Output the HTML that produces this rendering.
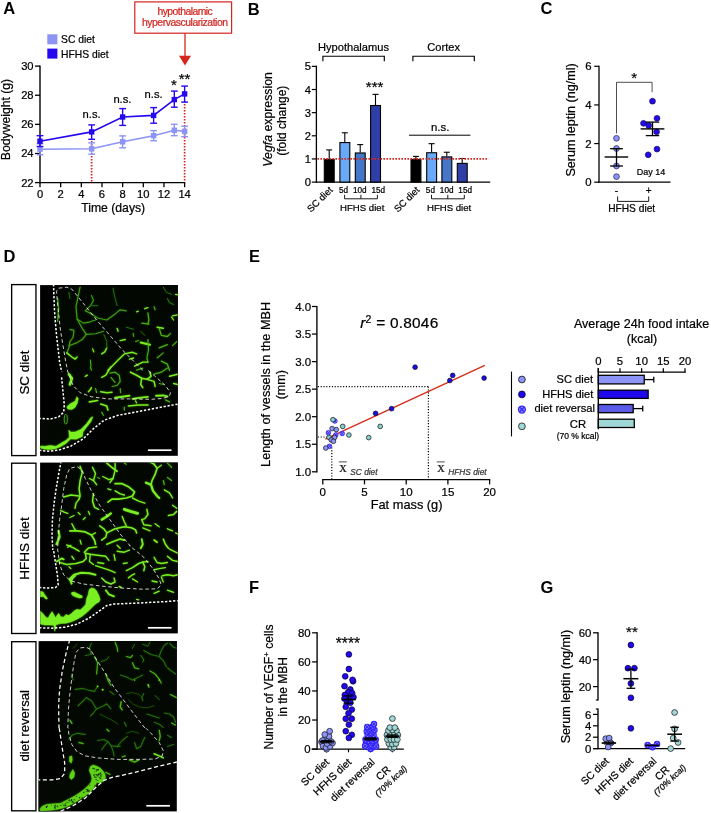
<!DOCTYPE html>
<html><head><meta charset="utf-8"><title>Figure</title>
<style>
html,body{margin:0;padding:0;background:#fff;}
body{width:711px;height:813px;overflow:hidden;font-family:"Liberation Sans",sans-serif;}
svg{display:block;opacity:0.9999;}
</style></head><body>
<svg width="711" height="813" viewBox="0 0 711 813" font-family="Liberation Sans, sans-serif">
<rect width="711" height="813" fill="#fff"/>
<text x="3.20" y="14.40" font-size="16.5" text-anchor="start" fill="#000" font-weight="bold" font-style="normal" font-family="Liberation Sans, sans-serif" >A</text>
<rect x="134.80" y="1.90" width="96.80" height="31.30" fill="#fff" stroke="#d4251f" stroke-width="1.2" />
<text x="185.10" y="14.90" font-size="10.4" text-anchor="middle" fill="#d4251f" stroke="#d4251f" stroke-width="0.22" font-weight="normal" font-style="normal" font-family="Liberation Sans, sans-serif" textLength="55.3" lengthAdjust="spacing" >hypothalamic</text>
<text x="185.00" y="25.70" font-size="10.4" text-anchor="middle" fill="#d4251f" stroke="#d4251f" stroke-width="0.22" font-weight="normal" font-style="normal" font-family="Liberation Sans, sans-serif" textLength="86" lengthAdjust="spacing" >hypervascularization</text>
<line x1="185.00" y1="33.20" x2="185.00" y2="57.00" stroke="#d4251f" stroke-width="1.3" />
<polygon points="179,55.7 191,55.7 185,65.6" fill="#d4251f"/>
<rect x="47.30" y="34.30" width="10.10" height="10.00" fill="#8c94f6" stroke="none" stroke-width="1" />
<rect x="47.30" y="48.60" width="10.10" height="10.00" fill="#2508ee" stroke="none" stroke-width="1" />
<text x="61.10" y="43.40" font-size="10.3" text-anchor="start" fill="#000" stroke="#000" stroke-width="0.22" font-weight="normal" font-style="normal" font-family="Liberation Sans, sans-serif" >SC diet</text>
<text x="61.10" y="57.60" font-size="10.3" text-anchor="start" fill="#000" stroke="#000" stroke-width="0.22" font-weight="normal" font-style="normal" font-family="Liberation Sans, sans-serif" >HFHS diet</text>
<line x1="40.00" y1="65.47" x2="40.00" y2="183.25" stroke="#000" stroke-width="1.4" />
<line x1="39.30" y1="182.60" x2="185.32" y2="182.60" stroke="#000" stroke-width="1.4" />
<line x1="35.00" y1="182.60" x2="40.00" y2="182.60" stroke="#000" stroke-width="1.3" />
<text x="33.60" y="186.60" font-size="11.2" text-anchor="end" fill="#000" stroke="#000" stroke-width="0.22" font-weight="normal" font-style="normal" font-family="Liberation Sans, sans-serif" >22</text>
<line x1="35.00" y1="153.48" x2="40.00" y2="153.48" stroke="#000" stroke-width="1.3" />
<text x="33.60" y="157.48" font-size="11.2" text-anchor="end" fill="#000" stroke="#000" stroke-width="0.22" font-weight="normal" font-style="normal" font-family="Liberation Sans, sans-serif" >24</text>
<line x1="35.00" y1="124.36" x2="40.00" y2="124.36" stroke="#000" stroke-width="1.3" />
<text x="33.60" y="128.36" font-size="11.2" text-anchor="end" fill="#000" stroke="#000" stroke-width="0.22" font-weight="normal" font-style="normal" font-family="Liberation Sans, sans-serif" >26</text>
<line x1="35.00" y1="95.24" x2="40.00" y2="95.24" stroke="#000" stroke-width="1.3" />
<text x="33.60" y="99.24" font-size="11.2" text-anchor="end" fill="#000" stroke="#000" stroke-width="0.22" font-weight="normal" font-style="normal" font-family="Liberation Sans, sans-serif" >28</text>
<line x1="35.00" y1="66.12" x2="40.00" y2="66.12" stroke="#000" stroke-width="1.3" />
<text x="33.60" y="70.12" font-size="11.2" text-anchor="end" fill="#000" stroke="#000" stroke-width="0.22" font-weight="normal" font-style="normal" font-family="Liberation Sans, sans-serif" >30</text>
<line x1="40.00" y1="182.60" x2="40.00" y2="187.20" stroke="#000" stroke-width="1.3" />
<text x="40.00" y="198.20" font-size="11.2" text-anchor="middle" fill="#000" stroke="#000" stroke-width="0.22" font-weight="normal" font-style="normal" font-family="Liberation Sans, sans-serif" >0</text>
<line x1="60.66" y1="182.60" x2="60.66" y2="187.20" stroke="#000" stroke-width="1.3" />
<text x="60.66" y="198.20" font-size="11.2" text-anchor="middle" fill="#000" stroke="#000" stroke-width="0.22" font-weight="normal" font-style="normal" font-family="Liberation Sans, sans-serif" >2</text>
<line x1="81.32" y1="182.60" x2="81.32" y2="187.20" stroke="#000" stroke-width="1.3" />
<text x="81.32" y="198.20" font-size="11.2" text-anchor="middle" fill="#000" stroke="#000" stroke-width="0.22" font-weight="normal" font-style="normal" font-family="Liberation Sans, sans-serif" >4</text>
<line x1="101.98" y1="182.60" x2="101.98" y2="187.20" stroke="#000" stroke-width="1.3" />
<text x="101.98" y="198.20" font-size="11.2" text-anchor="middle" fill="#000" stroke="#000" stroke-width="0.22" font-weight="normal" font-style="normal" font-family="Liberation Sans, sans-serif" >6</text>
<line x1="122.64" y1="182.60" x2="122.64" y2="187.20" stroke="#000" stroke-width="1.3" />
<text x="122.64" y="198.20" font-size="11.2" text-anchor="middle" fill="#000" stroke="#000" stroke-width="0.22" font-weight="normal" font-style="normal" font-family="Liberation Sans, sans-serif" >8</text>
<line x1="143.30" y1="182.60" x2="143.30" y2="187.20" stroke="#000" stroke-width="1.3" />
<text x="143.30" y="198.20" font-size="11.2" text-anchor="middle" fill="#000" stroke="#000" stroke-width="0.22" font-weight="normal" font-style="normal" font-family="Liberation Sans, sans-serif" >10</text>
<line x1="163.96" y1="182.60" x2="163.96" y2="187.20" stroke="#000" stroke-width="1.3" />
<text x="163.96" y="198.20" font-size="11.2" text-anchor="middle" fill="#000" stroke="#000" stroke-width="0.22" font-weight="normal" font-style="normal" font-family="Liberation Sans, sans-serif" >12</text>
<line x1="184.62" y1="182.60" x2="184.62" y2="187.20" stroke="#000" stroke-width="1.3" />
<text x="184.62" y="198.20" font-size="11.2" text-anchor="middle" fill="#000" stroke="#000" stroke-width="0.22" font-weight="normal" font-style="normal" font-family="Liberation Sans, sans-serif" >14</text>
<text x="113.20" y="211.80" font-size="12.2" text-anchor="middle" fill="#000" stroke="#000" stroke-width="0.22" font-weight="normal" font-style="normal" font-family="Liberation Sans, sans-serif" >Time (days)</text>
<text x="10.00" y="119.50" font-size="12.2" text-anchor="middle" fill="#000" stroke="#000" stroke-width="0.22" font-weight="normal" font-style="normal" font-family="Liberation Sans, sans-serif" transform="rotate(-90 10.00 119.50)" >Bodyweight (g)</text>
<line x1="91.65" y1="141.00" x2="91.65" y2="181.80" stroke="#d4251f" stroke-width="1.7" stroke-dasharray="1.6 1.4"/>
<line x1="184.62" y1="101.00" x2="184.62" y2="181.80" stroke="#d4251f" stroke-width="1.7" stroke-dasharray="1.6 1.4"/>
<polyline points="40.00,149.20 91.65,148.80 122.64,141.80 153.63,135.70 174.29,130.30 184.62,131.40" fill="none" stroke="#8c94f6" stroke-width="1.6"/>
<line x1="40.00" y1="143.80" x2="40.00" y2="154.70" stroke="#8c94f6" stroke-width="1.4" />
<line x1="36.60" y1="143.80" x2="43.40" y2="143.80" stroke="#8c94f6" stroke-width="1.4" />
<line x1="36.60" y1="154.70" x2="43.40" y2="154.70" stroke="#8c94f6" stroke-width="1.4" />
<rect x="37.30" y="146.50" width="5.40" height="5.40" fill="#8c94f6" stroke="none" stroke-width="1" />
<line x1="91.65" y1="142.90" x2="91.65" y2="154.20" stroke="#8c94f6" stroke-width="1.4" />
<line x1="88.25" y1="142.90" x2="95.05" y2="142.90" stroke="#8c94f6" stroke-width="1.4" />
<line x1="88.25" y1="154.20" x2="95.05" y2="154.20" stroke="#8c94f6" stroke-width="1.4" />
<rect x="88.95" y="146.10" width="5.40" height="5.40" fill="#8c94f6" stroke="none" stroke-width="1" />
<line x1="122.64" y1="135.90" x2="122.64" y2="147.80" stroke="#8c94f6" stroke-width="1.4" />
<line x1="119.24" y1="135.90" x2="126.04" y2="135.90" stroke="#8c94f6" stroke-width="1.4" />
<line x1="119.24" y1="147.80" x2="126.04" y2="147.80" stroke="#8c94f6" stroke-width="1.4" />
<rect x="119.94" y="139.10" width="5.40" height="5.40" fill="#8c94f6" stroke="none" stroke-width="1" />
<line x1="153.63" y1="130.60" x2="153.63" y2="140.70" stroke="#8c94f6" stroke-width="1.4" />
<line x1="150.23" y1="130.60" x2="157.03" y2="130.60" stroke="#8c94f6" stroke-width="1.4" />
<line x1="150.23" y1="140.70" x2="157.03" y2="140.70" stroke="#8c94f6" stroke-width="1.4" />
<rect x="150.93" y="133.00" width="5.40" height="5.40" fill="#8c94f6" stroke="none" stroke-width="1" />
<line x1="174.29" y1="124.30" x2="174.29" y2="135.70" stroke="#8c94f6" stroke-width="1.4" />
<line x1="170.89" y1="124.30" x2="177.69" y2="124.30" stroke="#8c94f6" stroke-width="1.4" />
<line x1="170.89" y1="135.70" x2="177.69" y2="135.70" stroke="#8c94f6" stroke-width="1.4" />
<rect x="171.59" y="127.60" width="5.40" height="5.40" fill="#8c94f6" stroke="none" stroke-width="1" />
<line x1="184.62" y1="126.20" x2="184.62" y2="136.70" stroke="#8c94f6" stroke-width="1.4" />
<line x1="181.22" y1="126.20" x2="188.02" y2="126.20" stroke="#8c94f6" stroke-width="1.4" />
<line x1="181.22" y1="136.70" x2="188.02" y2="136.70" stroke="#8c94f6" stroke-width="1.4" />
<rect x="181.92" y="128.70" width="5.40" height="5.40" fill="#8c94f6" stroke="none" stroke-width="1" />
<polyline points="40.00,141.20 91.65,131.90 122.64,117.00 153.63,115.40 174.29,99.60 184.62,93.90" fill="none" stroke="#2508ee" stroke-width="1.6"/>
<line x1="40.00" y1="135.70" x2="40.00" y2="146.50" stroke="#2508ee" stroke-width="1.4" />
<line x1="36.60" y1="135.70" x2="43.40" y2="135.70" stroke="#2508ee" stroke-width="1.4" />
<line x1="36.60" y1="146.50" x2="43.40" y2="146.50" stroke="#2508ee" stroke-width="1.4" />
<rect x="37.30" y="138.50" width="5.40" height="5.40" fill="#2508ee" stroke="none" stroke-width="1" />
<line x1="91.65" y1="124.90" x2="91.65" y2="139.30" stroke="#2508ee" stroke-width="1.4" />
<line x1="88.25" y1="124.90" x2="95.05" y2="124.90" stroke="#2508ee" stroke-width="1.4" />
<line x1="88.25" y1="139.30" x2="95.05" y2="139.30" stroke="#2508ee" stroke-width="1.4" />
<rect x="88.95" y="129.20" width="5.40" height="5.40" fill="#2508ee" stroke="none" stroke-width="1" />
<line x1="122.64" y1="108.60" x2="122.64" y2="125.40" stroke="#2508ee" stroke-width="1.4" />
<line x1="119.24" y1="108.60" x2="126.04" y2="108.60" stroke="#2508ee" stroke-width="1.4" />
<line x1="119.24" y1="125.40" x2="126.04" y2="125.40" stroke="#2508ee" stroke-width="1.4" />
<rect x="119.94" y="114.30" width="5.40" height="5.40" fill="#2508ee" stroke="none" stroke-width="1" />
<line x1="153.63" y1="107.60" x2="153.63" y2="123.20" stroke="#2508ee" stroke-width="1.4" />
<line x1="150.23" y1="107.60" x2="157.03" y2="107.60" stroke="#2508ee" stroke-width="1.4" />
<line x1="150.23" y1="123.20" x2="157.03" y2="123.20" stroke="#2508ee" stroke-width="1.4" />
<rect x="150.93" y="112.70" width="5.40" height="5.40" fill="#2508ee" stroke="none" stroke-width="1" />
<line x1="174.29" y1="91.10" x2="174.29" y2="107.20" stroke="#2508ee" stroke-width="1.4" />
<line x1="170.89" y1="91.10" x2="177.69" y2="91.10" stroke="#2508ee" stroke-width="1.4" />
<line x1="170.89" y1="107.20" x2="177.69" y2="107.20" stroke="#2508ee" stroke-width="1.4" />
<rect x="171.59" y="96.90" width="5.40" height="5.40" fill="#2508ee" stroke="none" stroke-width="1" />
<line x1="184.62" y1="86.10" x2="184.62" y2="102.10" stroke="#2508ee" stroke-width="1.4" />
<line x1="181.22" y1="86.10" x2="188.02" y2="86.10" stroke="#2508ee" stroke-width="1.4" />
<line x1="181.22" y1="102.10" x2="188.02" y2="102.10" stroke="#2508ee" stroke-width="1.4" />
<rect x="181.92" y="91.20" width="5.40" height="5.40" fill="#2508ee" stroke="none" stroke-width="1" />
<text x="91.60" y="118.40" font-size="11.2" text-anchor="middle" fill="#000" stroke="#000" stroke-width="0.22" font-weight="normal" font-style="normal" font-family="Liberation Sans, sans-serif" >n.s.</text>
<text x="122.40" y="103.00" font-size="11.2" text-anchor="middle" fill="#000" stroke="#000" stroke-width="0.22" font-weight="normal" font-style="normal" font-family="Liberation Sans, sans-serif" >n.s.</text>
<text x="153.60" y="98.20" font-size="11.2" text-anchor="middle" fill="#000" stroke="#000" stroke-width="0.22" font-weight="normal" font-style="normal" font-family="Liberation Sans, sans-serif" >n.s.</text>
<text x="173.80" y="90.20" font-size="15" text-anchor="middle" fill="#000" stroke="#000" stroke-width="0.22" font-weight="normal" font-style="normal" font-family="Liberation Sans, sans-serif" >*</text>
<text x="184.60" y="83.90" font-size="15" text-anchor="middle" fill="#000" stroke="#000" stroke-width="0.22" font-weight="normal" font-style="normal" font-family="Liberation Sans, sans-serif" >**</text>
<text x="247.80" y="14.50" font-size="16.5" text-anchor="start" fill="#000" font-weight="bold" font-style="normal" font-family="Liberation Sans, sans-serif" >B</text>
<line x1="316.40" y1="65.75" x2="316.40" y2="182.75" stroke="#000" stroke-width="1.3" />
<line x1="315.80" y1="182.10" x2="490.20" y2="182.10" stroke="#000" stroke-width="1.3" />
<line x1="311.80" y1="182.10" x2="316.40" y2="182.10" stroke="#000" stroke-width="1.2" />
<text x="311.00" y="186.10" font-size="11.2" text-anchor="end" fill="#000" stroke="#000" stroke-width="0.22" font-weight="normal" font-style="normal" font-family="Liberation Sans, sans-serif" >0</text>
<line x1="311.80" y1="158.95" x2="316.40" y2="158.95" stroke="#000" stroke-width="1.2" />
<text x="311.00" y="162.95" font-size="11.2" text-anchor="end" fill="#000" stroke="#000" stroke-width="0.22" font-weight="normal" font-style="normal" font-family="Liberation Sans, sans-serif" >1</text>
<line x1="311.80" y1="135.80" x2="316.40" y2="135.80" stroke="#000" stroke-width="1.2" />
<text x="311.00" y="139.80" font-size="11.2" text-anchor="end" fill="#000" stroke="#000" stroke-width="0.22" font-weight="normal" font-style="normal" font-family="Liberation Sans, sans-serif" >2</text>
<line x1="311.80" y1="112.65" x2="316.40" y2="112.65" stroke="#000" stroke-width="1.2" />
<text x="311.00" y="116.65" font-size="11.2" text-anchor="end" fill="#000" stroke="#000" stroke-width="0.22" font-weight="normal" font-style="normal" font-family="Liberation Sans, sans-serif" >3</text>
<line x1="311.80" y1="89.50" x2="316.40" y2="89.50" stroke="#000" stroke-width="1.2" />
<text x="311.00" y="93.50" font-size="11.2" text-anchor="end" fill="#000" stroke="#000" stroke-width="0.22" font-weight="normal" font-style="normal" font-family="Liberation Sans, sans-serif" >4</text>
<line x1="311.80" y1="66.35" x2="316.40" y2="66.35" stroke="#000" stroke-width="1.2" />
<text x="311.00" y="70.35" font-size="11.2" text-anchor="end" fill="#000" stroke="#000" stroke-width="0.22" font-weight="normal" font-style="normal" font-family="Liberation Sans, sans-serif" >5</text>
<line x1="329.20" y1="149.92" x2="329.20" y2="158.95" stroke="#000" stroke-width="1.1" />
<line x1="326.20" y1="149.92" x2="332.20" y2="149.92" stroke="#000" stroke-width="1.1" />
<rect x="324.30" y="159.45" width="9.90" height="22.65" fill="#000" stroke="#000" stroke-width="1.1" />
<line x1="344.80" y1="132.79" x2="344.80" y2="142.05" stroke="#000" stroke-width="1.1" />
<line x1="341.80" y1="132.79" x2="347.80" y2="132.79" stroke="#000" stroke-width="1.1" />
<rect x="339.90" y="142.55" width="9.90" height="39.55" fill="#6aa9f8" stroke="#000" stroke-width="1.1" />
<line x1="360.20" y1="144.60" x2="360.20" y2="152.47" stroke="#000" stroke-width="1.1" />
<line x1="357.20" y1="144.60" x2="363.20" y2="144.60" stroke="#000" stroke-width="1.1" />
<rect x="355.30" y="152.97" width="9.90" height="29.13" fill="#4576c8" stroke="#000" stroke-width="1.1" />
<line x1="375.50" y1="94.36" x2="375.50" y2="105.01" stroke="#000" stroke-width="1.1" />
<line x1="372.50" y1="94.36" x2="378.50" y2="94.36" stroke="#000" stroke-width="1.1" />
<rect x="370.60" y="105.51" width="9.90" height="76.59" fill="#303fa8" stroke="#000" stroke-width="1.1" />
<line x1="415.90" y1="156.40" x2="415.90" y2="158.95" stroke="#000" stroke-width="1.1" />
<line x1="412.90" y1="156.40" x2="418.90" y2="156.40" stroke="#000" stroke-width="1.1" />
<rect x="411.00" y="159.45" width="9.90" height="22.65" fill="#000" stroke="#000" stroke-width="1.1" />
<line x1="431.60" y1="143.67" x2="431.60" y2="152.24" stroke="#000" stroke-width="1.1" />
<line x1="428.60" y1="143.67" x2="434.60" y2="143.67" stroke="#000" stroke-width="1.1" />
<rect x="426.70" y="152.74" width="9.90" height="29.36" fill="#6aa9f8" stroke="#000" stroke-width="1.1" />
<line x1="446.80" y1="152.24" x2="446.80" y2="156.40" stroke="#000" stroke-width="1.1" />
<line x1="443.80" y1="152.24" x2="449.80" y2="152.24" stroke="#000" stroke-width="1.1" />
<rect x="441.90" y="156.90" width="9.90" height="25.20" fill="#4576c8" stroke="#000" stroke-width="1.1" />
<line x1="462.20" y1="158.49" x2="462.20" y2="162.89" stroke="#000" stroke-width="1.1" />
<line x1="459.20" y1="158.49" x2="465.20" y2="158.49" stroke="#000" stroke-width="1.1" />
<rect x="457.30" y="163.39" width="9.90" height="18.71" fill="#303fa8" stroke="#000" stroke-width="1.1" />
<line x1="317.40" y1="158.95" x2="488.50" y2="158.95" stroke="#d4251f" stroke-width="1.7" stroke-dasharray="1.6 1.4"/>
<path d="M322.9 61.2V56.2H384.3V61.2" fill="none" stroke="#000" stroke-width="1.15"/>
<path d="M412.9 61.2V56.2H474.3V61.2" fill="none" stroke="#000" stroke-width="1.15"/>
<text x="353.50" y="50.70" font-size="11.1" text-anchor="middle" fill="#000" stroke="#000" stroke-width="0.22" font-weight="normal" font-style="normal" font-family="Liberation Sans, sans-serif" >Hypothalamus</text>
<text x="443.70" y="50.70" font-size="11.1" text-anchor="middle" fill="#000" stroke="#000" stroke-width="0.22" font-weight="normal" font-style="normal" font-family="Liberation Sans, sans-serif" >Cortex</text>
<text x="374.60" y="92.40" font-size="15" text-anchor="middle" fill="#000" stroke="#000" stroke-width="0.22" font-weight="normal" font-style="normal" font-family="Liberation Sans, sans-serif" >***</text>
<line x1="409.00" y1="135.20" x2="470.40" y2="135.20" stroke="#000" stroke-width="1" />
<text x="440.20" y="130.80" font-size="11.4" text-anchor="middle" fill="#000" stroke="#000" stroke-width="0.22" font-weight="normal" font-style="normal" font-family="Liberation Sans, sans-serif" >n.s.</text>
<text x="333.30" y="190.60" font-size="9.6" text-anchor="end" fill="#000" stroke="#000" stroke-width="0.22" font-weight="normal" font-style="normal" font-family="Liberation Sans, sans-serif" transform="rotate(-45 333.30 190.60)" >SC diet</text>
<text x="343.50" y="192.50" font-size="8.2" text-anchor="middle" fill="#000" stroke="#000" stroke-width="0.22" font-weight="normal" font-style="normal" font-family="Liberation Sans, sans-serif" >5d</text>
<text x="359.80" y="192.50" font-size="8.2" text-anchor="middle" fill="#000" stroke="#000" stroke-width="0.22" font-weight="normal" font-style="normal" font-family="Liberation Sans, sans-serif" >10d</text>
<text x="378.30" y="192.50" font-size="8.2" text-anchor="middle" fill="#000" stroke="#000" stroke-width="0.22" font-weight="normal" font-style="normal" font-family="Liberation Sans, sans-serif" >15d</text>
<path d="M344.6 194.8V198.8H377.4V194.8M360.9 194.8V198.8" fill="none" stroke="#000" stroke-width="0.9"/>
<text x="362.20" y="210.60" font-size="9.6" text-anchor="middle" fill="#000" stroke="#000" stroke-width="0.22" font-weight="normal" font-style="normal" font-family="Liberation Sans, sans-serif" >HFHS diet</text>
<text x="420.20" y="190.60" font-size="9.6" text-anchor="end" fill="#000" stroke="#000" stroke-width="0.22" font-weight="normal" font-style="normal" font-family="Liberation Sans, sans-serif" transform="rotate(-45 420.20 190.60)" >SC diet</text>
<text x="430.40" y="192.50" font-size="8.2" text-anchor="middle" fill="#000" stroke="#000" stroke-width="0.22" font-weight="normal" font-style="normal" font-family="Liberation Sans, sans-serif" >5d</text>
<text x="446.70" y="192.50" font-size="8.2" text-anchor="middle" fill="#000" stroke="#000" stroke-width="0.22" font-weight="normal" font-style="normal" font-family="Liberation Sans, sans-serif" >10d</text>
<text x="465.20" y="192.50" font-size="8.2" text-anchor="middle" fill="#000" stroke="#000" stroke-width="0.22" font-weight="normal" font-style="normal" font-family="Liberation Sans, sans-serif" >15d</text>
<path d="M431.5 194.8V198.8H464.29999999999995V194.8M447.79999999999995 194.8V198.8" fill="none" stroke="#000" stroke-width="0.9"/>
<text x="449.10" y="210.60" font-size="9.6" text-anchor="middle" fill="#000" stroke="#000" stroke-width="0.22" font-weight="normal" font-style="normal" font-family="Liberation Sans, sans-serif" >HFHS diet</text>
<text x="272.00" y="119.40" font-size="12.3" text-anchor="middle" fill="#000" stroke="#000" stroke-width="0.22" font-weight="normal" font-style="normal" font-family="Liberation Sans, sans-serif" transform="rotate(-90 272.00 119.40)" ><tspan font-style="italic">Vegfa</tspan> expression</text>
<text x="286.50" y="120.70" font-size="12.0" text-anchor="middle" fill="#000" stroke="#000" stroke-width="0.22" font-weight="normal" font-style="normal" font-family="Liberation Sans, sans-serif" transform="rotate(-90 286.50 120.70)" >(fold change)</text>
<text x="540.60" y="14.30" font-size="16.5" text-anchor="start" fill="#000" font-weight="bold" font-style="normal" font-family="Liberation Sans, sans-serif" >C</text>
<line x1="599.00" y1="65.68" x2="599.00" y2="182.85" stroke="#000" stroke-width="1.3" />
<line x1="598.40" y1="182.20" x2="670.50" y2="182.20" stroke="#000" stroke-width="1.3" />
<line x1="594.20" y1="182.20" x2="599.00" y2="182.20" stroke="#000" stroke-width="1.2" />
<text x="591.60" y="186.30" font-size="11.4" text-anchor="end" fill="#000" stroke="#000" stroke-width="0.22" font-weight="normal" font-style="normal" font-family="Liberation Sans, sans-serif" >0</text>
<line x1="594.20" y1="143.56" x2="599.00" y2="143.56" stroke="#000" stroke-width="1.2" />
<text x="591.60" y="147.66" font-size="11.4" text-anchor="end" fill="#000" stroke="#000" stroke-width="0.22" font-weight="normal" font-style="normal" font-family="Liberation Sans, sans-serif" >2</text>
<line x1="594.20" y1="104.92" x2="599.00" y2="104.92" stroke="#000" stroke-width="1.2" />
<text x="591.60" y="109.02" font-size="11.4" text-anchor="end" fill="#000" stroke="#000" stroke-width="0.22" font-weight="normal" font-style="normal" font-family="Liberation Sans, sans-serif" >4</text>
<line x1="594.20" y1="66.28" x2="599.00" y2="66.28" stroke="#000" stroke-width="1.2" />
<text x="591.60" y="70.38" font-size="11.4" text-anchor="end" fill="#000" stroke="#000" stroke-width="0.22" font-weight="normal" font-style="normal" font-family="Liberation Sans, sans-serif" >6</text>
<text x="575.00" y="119.90" font-size="12.6" text-anchor="middle" fill="#000" stroke="#000" stroke-width="0.22" font-weight="normal" font-style="normal" font-family="Liberation Sans, sans-serif" transform="rotate(-90 575.00 119.90)" >Serum leptin (ng/ml)</text>
<circle cx="616.50" cy="138.30" r="2.9" fill="#8c94f6" stroke="#22224a" stroke-width="0.7" />
<circle cx="616.50" cy="148.50" r="2.9" fill="#8c94f6" stroke="#22224a" stroke-width="0.7" />
<circle cx="616.50" cy="166.00" r="2.9" fill="#8c94f6" stroke="#22224a" stroke-width="0.7" />
<circle cx="616.50" cy="176.60" r="2.9" fill="#8c94f6" stroke="#22224a" stroke-width="0.7" />
<circle cx="652.50" cy="101.20" r="2.9" fill="#2508ee" stroke="#10105a" stroke-width="0.7" />
<circle cx="657.00" cy="118.30" r="2.9" fill="#2508ee" stroke="#10105a" stroke-width="0.7" />
<circle cx="643.50" cy="123.30" r="2.9" fill="#2508ee" stroke="#10105a" stroke-width="0.7" />
<circle cx="648.70" cy="125.50" r="2.9" fill="#2508ee" stroke="#10105a" stroke-width="0.7" />
<circle cx="656.60" cy="131.80" r="2.9" fill="#2508ee" stroke="#10105a" stroke-width="0.7" />
<circle cx="657.00" cy="149.10" r="2.9" fill="#2508ee" stroke="#10105a" stroke-width="0.7" />
<circle cx="648.20" cy="154.80" r="2.9" fill="#2508ee" stroke="#10105a" stroke-width="0.7" />
<line x1="604.60" y1="157.00" x2="628.20" y2="157.00" stroke="#000" stroke-width="1.4" />
<line x1="616.50" y1="148.70" x2="616.50" y2="166.00" stroke="#000" stroke-width="1.3" />
<line x1="610.10" y1="148.70" x2="622.90" y2="148.70" stroke="#000" stroke-width="1.3" />
<line x1="610.10" y1="166.00" x2="622.90" y2="166.00" stroke="#000" stroke-width="1.3" />
<line x1="640.60" y1="128.90" x2="664.40" y2="128.90" stroke="#000" stroke-width="1.4" />
<line x1="652.50" y1="122.10" x2="652.50" y2="135.60" stroke="#000" stroke-width="1.3" />
<line x1="645.80" y1="122.10" x2="659.20" y2="122.10" stroke="#000" stroke-width="1.3" />
<line x1="645.80" y1="135.60" x2="659.20" y2="135.60" stroke="#000" stroke-width="1.3" />
<path d="M616.5 133.4V82.3H652.1V92.2" fill="none" stroke="#222" stroke-width="0.8"/>
<text x="634.20" y="82.50" font-size="15" text-anchor="middle" fill="#000" stroke="#000" stroke-width="0.22" font-weight="normal" font-style="normal" font-family="Liberation Sans, sans-serif" >*</text>
<text x="651.00" y="174.60" font-size="9.0" text-anchor="middle" fill="#000" stroke="#000" stroke-width="0.22" font-weight="normal" font-style="normal" font-family="Liberation Sans, sans-serif" >Day 14</text>
<text x="616.50" y="194.00" font-size="10" text-anchor="middle" fill="#000" stroke="#000" stroke-width="0.22" font-weight="normal" font-style="normal" font-family="Liberation Sans, sans-serif" >-</text>
<text x="648.70" y="193.60" font-size="10" text-anchor="middle" fill="#000" stroke="#000" stroke-width="0.22" font-weight="normal" font-style="normal" font-family="Liberation Sans, sans-serif" >+</text>
<path d="M617.6 196.4V201.4H648.7V196.4" fill="none" stroke="#000" stroke-width="0.9"/>
<text x="631.70" y="211.50" font-size="10.2" text-anchor="middle" fill="#000" stroke="#000" stroke-width="0.22" font-weight="normal" font-style="normal" font-family="Liberation Sans, sans-serif" >HFHS diet</text>
<defs><filter id="vb" x="-5%" y="-5%" width="110%" height="110%"><feGaussianBlur in="SourceGraphic" stdDeviation="1.3" result="g"/><feComponentTransfer in="g" result="g2"><feFuncA type="linear" slope="0.42"/></feComponentTransfer><feGaussianBlur in="SourceGraphic" stdDeviation="0.5" result="s"/><feMerge><feMergeNode in="g2"/><feMergeNode in="s"/></feMerge></filter></defs>
<text x="3.40" y="261.60" font-size="16.5" text-anchor="start" fill="#000" font-weight="bold" font-style="normal" font-family="Liberation Sans, sans-serif" >D</text>
<rect x="11.65" y="284.60" width="24.30" height="171.00" fill="#fff" stroke="#000" stroke-width="1.35" />
<text x="29.20" y="372.60" font-size="13.4" text-anchor="middle" fill="#000" stroke="#000" stroke-width="0.22" font-weight="normal" font-style="normal" font-family="Liberation Sans, sans-serif" transform="rotate(-90 29.20 372.60)" >SC diet</text>
<rect x="11.65" y="463.20" width="24.30" height="170.30" fill="#fff" stroke="#000" stroke-width="1.35" />
<text x="29.20" y="548.50" font-size="13.5" text-anchor="middle" fill="#000" stroke="#000" stroke-width="0.22" font-weight="normal" font-style="normal" font-family="Liberation Sans, sans-serif" transform="rotate(-90 29.20 548.50)" >HFHS diet</text>
<rect x="11.65" y="641.70" width="24.30" height="169.10" fill="#fff" stroke="#000" stroke-width="1.35" />
<text x="29.20" y="725.80" font-size="13.1" text-anchor="middle" fill="#000" stroke="#000" stroke-width="0.22" font-weight="normal" font-style="normal" font-family="Liberation Sans, sans-serif" transform="rotate(-90 29.20 725.80)" >diet reversal</text>
<clipPath id="c1"><rect x="40.1" y="285.1" width="137.70000000000002" height="170.7"/></clipPath>
<rect x="40.10" y="285.10" width="137.70" height="170.70" fill="#000" stroke="none" stroke-width="1" />
<g clip-path="url(#c1)">
<polygon points="53.5,284.1 54.5,310.8 56.5,335.4 59.6,362.1 61.7,372.0 61.7,378.3 63.1,392.7 64.3,405.0 63.7,412.2 58.6,416.9 50.4,419.0 39.1,418.4 39.1,450.2 48.3,451.2 58.6,450.2 70.9,446.1 83.2,438.9 93.5,428.6 103.8,420.4 118.1,415.3 134.6,412.2 151.0,409.1 167.4,406.0 178.7,404.0 178.8,284.1" fill="#030701"/>
<g filter="url(#vb)">
<path d="M80.1 287.2L78.1 296.4L76.0 306.7L77.1 319.0L82.2 328.3L86.3 334.4" fill="none" stroke="#3f9e12" stroke-width="1.2" stroke-linecap="round" stroke-linejoin="round" />
<path d="M86.3 334.4L95.5 333.8L103.8 331.3" fill="none" stroke="#3f9e12" stroke-width="1.1" stroke-linecap="round" stroke-linejoin="round" />
<path d="M57.6 298.5L58.6 308.7L57.6 321.1" fill="none" stroke="#3f9e12" stroke-width="1.4" stroke-linecap="round" stroke-linejoin="round" />
<path d="M68.9 292.3L69.9 298.5" fill="none" stroke="#276f0b" stroke-width="1" stroke-linecap="round" stroke-linejoin="round" />
<path d="M91.4 295.4L93.5 300.5L90.4 305.7L85.3 310.8" fill="none" stroke="#3f9e12" stroke-width="1.1" stroke-linecap="round" stroke-linejoin="round" />
<path d="M85.3 310.8L91.4 313.9L97.6 318.0L106.8 320.0L115.1 313.9L120.2 309.8L126.3 310.8" fill="none" stroke="#3f9e12" stroke-width="1.2" stroke-linecap="round" stroke-linejoin="round" />
<path d="M90.4 305.7L97.6 305.7" fill="none" stroke="#276f0b" stroke-width="1" stroke-linecap="round" stroke-linejoin="round" />
<path d="M113.0 288.2L115.1 298.5L117.1 305.7" fill="none" stroke="#276f0b" stroke-width="1" stroke-linecap="round" stroke-linejoin="round" />
<path d="M77.1 319.0L83.2 323.1L89.4 322.1L95.5 320.0" fill="none" stroke="#3f9e12" stroke-width="1.1" stroke-linecap="round" stroke-linejoin="round" />
<path d="M69.9 329.3L74.0 330.3L73.0 337.5L69.9 341.6L68.9 347.8L66.8 352.9" fill="none" stroke="#3f9e12" stroke-width="1.2" stroke-linecap="round" stroke-linejoin="round" />
<path d="M68.9 345.7L77.1 342.6L82.2 339.5L86.3 334.4" fill="none" stroke="#3f9e12" stroke-width="1.2" stroke-linecap="round" stroke-linejoin="round" />
<path d="M66.8 352.9L71.9 357.0L75.0 359.1L77.1 357.0" fill="none" stroke="#7af024" stroke-width="1.5" stroke-linecap="round" stroke-linejoin="round" />
<path d="M92.5 348.8L93.9 351.9" fill="none" stroke="#7af024" stroke-width="1.2" stroke-linecap="round" stroke-linejoin="round" />
<path d="M106.8 347.8L104.8 351.9L101.7 353.9" fill="none" stroke="#7af024" stroke-width="1.4" stroke-linecap="round" stroke-linejoin="round" />
<path d="M103.8 334.4L106.8 341.6L106.8 347.8" fill="none" stroke="#276f0b" stroke-width="1" stroke-linecap="round" stroke-linejoin="round" />
<path d="M90.4 360.1L91.0 366.2" fill="none" stroke="#47ae14" stroke-width="1.1" stroke-linecap="round" stroke-linejoin="round" />
<path d="M117.1 328.3L118.1 331.3" fill="none" stroke="#7af024" stroke-width="1.3" stroke-linecap="round" stroke-linejoin="round" />
<path d="M120.2 340.6L125.3 339.5" fill="none" stroke="#7af024" stroke-width="1.4" stroke-linecap="round" stroke-linejoin="round" />
<path d="M126.3 327.2L133.5 329.3" fill="none" stroke="#276f0b" stroke-width="1" stroke-linecap="round" stroke-linejoin="round" />
<path d="M133.1 333.4L133.7 336.5" fill="none" stroke="#47ae14" stroke-width="1.1" stroke-linecap="round" stroke-linejoin="round" />
<path d="M136.6 311.8L138.3 311.2" fill="none" stroke="#7af024" stroke-width="1.4" stroke-linecap="round" stroke-linejoin="round" />
<path d="M144.8 308.7L147.9 307.7" fill="none" stroke="#7af024" stroke-width="1.4" stroke-linecap="round" stroke-linejoin="round" />
<path d="M147.9 312.9L148.9 320.0L147.9 324.1" fill="none" stroke="#47ae14" stroke-width="1.3" stroke-linecap="round" stroke-linejoin="round" />
<path d="M141.7 323.1L148.9 324.1" fill="none" stroke="#47ae14" stroke-width="1.2" stroke-linecap="round" stroke-linejoin="round" />
<path d="M154.1 306.7L155.1 309.8" fill="none" stroke="#47ae14" stroke-width="1.2" stroke-linecap="round" stroke-linejoin="round" />
<path d="M157.1 327.2L163.3 328.3" fill="none" stroke="#7af024" stroke-width="1.5" stroke-linecap="round" stroke-linejoin="round" />
<path d="M159.2 328.3L161.3 335.4L167.4 336.5L170.5 333.4" fill="none" stroke="#47ae14" stroke-width="1.3" stroke-linecap="round" stroke-linejoin="round" />
<path d="M171.5 317.0L173.6 320.0" fill="none" stroke="#7af024" stroke-width="1.3" stroke-linecap="round" stroke-linejoin="round" />
<path d="M172.6 315.9L177.7 314.9" fill="none" stroke="#7af024" stroke-width="1.4" stroke-linecap="round" stroke-linejoin="round" />
<path d="M167.4 298.5L169.5 302.6L173.6 304.6" fill="none" stroke="#276f0b" stroke-width="1.1" stroke-linecap="round" stroke-linejoin="round" />
<path d="M163.3 287.2L166.4 292.3L171.5 294.4" fill="none" stroke="#276f0b" stroke-width="1" stroke-linecap="round" stroke-linejoin="round" />
<path d="M175.6 294.4L177.7 294.8" fill="none" stroke="#7af024" stroke-width="1.4" stroke-linecap="round" stroke-linejoin="round" />
<path d="M140.7 342.6L150.0 344.7" fill="none" stroke="#7af024" stroke-width="2.0" stroke-linecap="round" stroke-linejoin="round" />
<path d="M147.9 339.5L148.5 349.8L146.9 358.0L147.9 362.1" fill="none" stroke="#47ae14" stroke-width="1.2" stroke-linecap="round" stroke-linejoin="round" />
<path d="M159.2 347.8L167.4 344.7" fill="none" stroke="#47ae14" stroke-width="1.3" stroke-linecap="round" stroke-linejoin="round" />
<path d="M172.6 345.7L176.7 341.6" fill="none" stroke="#47ae14" stroke-width="1.2" stroke-linecap="round" stroke-linejoin="round" />
<path d="M157.1 358.0L163.3 352.9" fill="none" stroke="#47ae14" stroke-width="1.1" stroke-linecap="round" stroke-linejoin="round" />
<path d="M161.3 361.1L167.4 364.2L169.5 370.3" fill="none" stroke="#47ae14" stroke-width="1.3" stroke-linecap="round" stroke-linejoin="round" />
<path d="M107.9 370.3L112.0 366.2L118.1 360.1L124.3 353.9L132.5 352.3L136.6 353.9" fill="none" stroke="#7af024" stroke-width="1.4" stroke-linecap="round" stroke-linejoin="round" />
<path d="M129.4 359.1L133.5 358.0" fill="none" stroke="#7af024" stroke-width="1.4" stroke-linecap="round" stroke-linejoin="round" />
<path d="M134.6 366.2L142.8 362.1L147.9 362.1" fill="none" stroke="#7af024" stroke-width="1.4" stroke-linecap="round" stroke-linejoin="round" />
<path d="M140.7 331.3L144.8 335.4" fill="none" stroke="#276f0b" stroke-width="1" stroke-linecap="round" stroke-linejoin="round" />
<path d="M135.6 341.6L138.7 340.6" fill="none" stroke="#47ae14" stroke-width="1.1" stroke-linecap="round" stroke-linejoin="round" />
<path d="M68.9 374.2L71.9 378.3L69.9 384.5" fill="none" stroke="#7af024" stroke-width="2.6" stroke-linecap="round" stroke-linejoin="round" />
<path d="M85.3 376.3L87.3 375.2" fill="none" stroke="#7af024" stroke-width="1.5" stroke-linecap="round" stroke-linejoin="round" />
<path d="M90.4 367.0L91.4 370.1" fill="none" stroke="#47ae14" stroke-width="1.2" stroke-linecap="round" stroke-linejoin="round" />
<path d="M101.7 377.3L105.8 375.2L108.9 370.1L110.9 367.0" fill="none" stroke="#7af024" stroke-width="1.5" stroke-linecap="round" stroke-linejoin="round" />
<path d="M109.9 373.2L115.1 372.2L119.2 375.2L120.2 381.4L117.1 385.5L112.0 386.5" fill="none" stroke="#47ae14" stroke-width="1.2" stroke-linecap="round" stroke-linejoin="round" />
<path d="M110.9 377.3L115.1 382.4" fill="none" stroke="#47ae14" stroke-width="1.1" stroke-linecap="round" stroke-linejoin="round" />
<path d="M91.4 387.6L90.4 389.6L88.4 391.7" fill="none" stroke="#7af024" stroke-width="1.5" stroke-linecap="round" stroke-linejoin="round" />
<path d="M95.5 388.6L96.6 392.7" fill="none" stroke="#47ae14" stroke-width="1.2" stroke-linecap="round" stroke-linejoin="round" />
<path d="M100.7 391.7L106.8 392.7L112.0 392.3" fill="none" stroke="#7af024" stroke-width="1.5" stroke-linecap="round" stroke-linejoin="round" />
<path d="M120.2 388.6L120.6 392.7" fill="none" stroke="#47ae14" stroke-width="1.2" stroke-linecap="round" stroke-linejoin="round" />
<path d="M89.4 401.9L97.6 400.5" fill="none" stroke="#7af024" stroke-width="1.7" stroke-linecap="round" stroke-linejoin="round" />
<path d="M100.7 404.0L106.8 406.0L107.9 410.1" fill="none" stroke="#7af024" stroke-width="1.6" stroke-linecap="round" stroke-linejoin="round" />
<path d="M101.7 412.2L103.4 415.3" fill="none" stroke="#47ae14" stroke-width="1.2" stroke-linecap="round" stroke-linejoin="round" />
<path d="M115.1 397.8L122.2 396.8L129.4 395.8" fill="none" stroke="#7af024" stroke-width="2.0" stroke-linecap="round" stroke-linejoin="round" />
<path d="M132.5 398.9L138.7 397.8L147.9 396.8" fill="none" stroke="#7af024" stroke-width="1.8" stroke-linecap="round" stroke-linejoin="round" />
<path d="M135.6 400.9L136.6 403.0" fill="none" stroke="#7af024" stroke-width="1.2" stroke-linecap="round" stroke-linejoin="round" />
<path d="M124.3 407.1L124.3 410.1" fill="none" stroke="#47ae14" stroke-width="1.2" stroke-linecap="round" stroke-linejoin="round" />
<path d="M128.4 406.0L138.7 405.0L147.9 405.0" fill="none" stroke="#7af024" stroke-width="1.7" stroke-linecap="round" stroke-linejoin="round" />
<path d="M156.1 395.8L163.3 395.4L167.4 396.4" fill="none" stroke="#7af024" stroke-width="2.0" stroke-linecap="round" stroke-linejoin="round" />
<path d="M165.4 399.9L169.5 401.9" fill="none" stroke="#47ae14" stroke-width="1.3" stroke-linecap="round" stroke-linejoin="round" />
<path d="M130.5 372.2L136.6 375.2L141.7 378.3L146.9 379.3L151.0 376.3L150.0 372.2" fill="none" stroke="#7af024" stroke-width="1.6" stroke-linecap="round" stroke-linejoin="round" />
<path d="M141.7 378.3L140.7 384.5L142.8 387.6" fill="none" stroke="#7af024" stroke-width="1.5" stroke-linecap="round" stroke-linejoin="round" />
<path d="M146.9 379.3L154.1 381.4L155.1 386.5" fill="none" stroke="#7af024" stroke-width="1.4" stroke-linecap="round" stroke-linejoin="round" />
<path d="M136.6 370.1L142.8 368.1" fill="none" stroke="#47ae14" stroke-width="1.2" stroke-linecap="round" stroke-linejoin="round" />
<path d="M154.1 374.2L161.3 372.2L167.4 368.1" fill="none" stroke="#47ae14" stroke-width="1.2" stroke-linecap="round" stroke-linejoin="round" />
<path d="M169.5 376.3L177.7 374.2" fill="none" stroke="#7af024" stroke-width="1.5" stroke-linecap="round" stroke-linejoin="round" />
<path d="M159.2 383.5L163.3 384.5" fill="none" stroke="#47ae14" stroke-width="1.1" stroke-linecap="round" stroke-linejoin="round" />
<path d="M173.6 383.5L177.7 384.5" fill="none" stroke="#7af024" stroke-width="1.3" stroke-linecap="round" stroke-linejoin="round" />
<polygon points="40.3,445.9 44.8,446.3 50.4,445.4 56.0,446.3 61.6,442.8 66.1,440.2 69.3,437.3 68.8,430.1 70.9,432.1 75.1,431.9 80.8,429.4 86.4,423.8 90.9,417.5 92.9,416.8 90.9,421.8 86.4,427.4 83.0,431.9 82.4,436.4 76.3,439.2 70.6,438.9 66.1,443.4 60.5,446.8 54.9,449.0 49.3,449.6 43.6,449.0 40.3,448.1" fill="#7af024" stroke="#7af024" stroke-width="0.5" stroke-linejoin="round"/>
<polygon points="66.7,406.8 70.6,403.4 75.1,401.2 76.8,396.7 78.3,398.4 77.4,402.9 75.1,407.4 71.8,409.6 67.8,409.1" fill="#7af024" stroke="#7af024" stroke-width="0.5" stroke-linejoin="round"/>
<ellipse cx="65.8" cy="419.2" rx="1.6" ry="5" fill="none" stroke="#47ae14" stroke-width="0.9"/>
</g>
<path d="M53.5 284.1L54.5 310.8L56.5 335.4L59.6 362.1L61.7 372.0" fill="none" stroke="#fff" stroke-width="1.5" stroke-dasharray="2.3 1.7" stroke-linejoin="round" opacity="1"/>
<path d="M61.5 377.3L61.7 378.3L63.1 392.7L64.3 405.0L63.7 412.2L58.6 416.9L50.4 419.0L39.1 418.4" fill="none" stroke="#fff" stroke-width="1.5" stroke-dasharray="2.3 1.7" stroke-linejoin="round" opacity="1"/>
<path d="M39.1 450.2L48.3 451.2L58.6 450.2L70.9 446.1L83.2 438.9L93.5 428.6L103.8 420.4L118.1 415.3L134.6 412.2L151.0 409.1L167.4 406.0L178.7 404.0" fill="none" stroke="#fff" stroke-width="1.5" stroke-dasharray="2.3 1.7" stroke-linejoin="round" opacity="1"/>
<path d="M142.8 370.3L122.2 349.8L97.6 321.1L71.9 289.2L66.8 287.2L58.6 288.2L56.5 291.3L57.6 304.6L60.6 331.3L65.8 362.1L67.8 372.0L68.9 374.2L73.0 385.5L80.1 392.7L91.4 396.8L107.9 398.9L128.4 398.9L151.0 399.3L163.3 398.4L169.5 395.8L170.5 392.7L165.4 385.5L155.1 376.3L147.9 370.3" fill="none" stroke="#f0f0f0" stroke-width="0.85" stroke-dasharray="3.6 2.6" stroke-linejoin="round"/>
</g>
<line x1="147.90" y1="450.20" x2="171.50" y2="450.20" stroke="#fff" stroke-width="1.7" />
<clipPath id="c2"><rect x="40.1" y="462.6" width="137.70000000000002" height="170.79999999999995"/></clipPath>
<rect x="40.10" y="462.60" width="137.70" height="170.80" fill="#000" stroke="none" stroke-width="1" />
<g clip-path="url(#c2)">
<polygon points="61.1,461.1 58.6,474.4 56.1,488.8 54.1,503.2 52.4,519.6 52.0,536.0 52.8,550.0 53.7,551.2 54.1,554.3 56.1,566.6 57.6,576.9 58.2,585.1 55.5,587.5 48.3,588.1 39.1,587.5 39.1,627.8 52.4,628.2 64.7,627.2 77.1,624.1 89.4,617.9 99.7,610.7 106.8,605.6 114.0,604.0 128.4,603.5 148.9,602.5 167.4,601.5 178.7,600.5 178.8,461.6" fill="#030701"/>
<g filter="url(#vb)">
<path d="M80.1 466.2L82.2 472.4L80.1 480.6L79.1 488.8L80.1 496.0L79.1 499.1" fill="none" stroke="#7af024" stroke-width="1.5" stroke-linecap="round" stroke-linejoin="round" />
<path d="M63.7 497.0L70.9 495.0L79.1 496.0" fill="none" stroke="#7af024" stroke-width="1.5" stroke-linecap="round" stroke-linejoin="round" />
<path d="M79.1 499.1L76.0 503.2L75.0 508.3" fill="none" stroke="#7af024" stroke-width="1.4" stroke-linecap="round" stroke-linejoin="round" />
<path d="M60.6 510.4L64.7 512.4L67.8 513.4" fill="none" stroke="#7af024" stroke-width="1.4" stroke-linecap="round" stroke-linejoin="round" />
<path d="M69.9 517.5L74.0 515.5" fill="none" stroke="#7af024" stroke-width="1.3" stroke-linecap="round" stroke-linejoin="round" />
<path d="M78.1 512.4L80.1 514.5" fill="none" stroke="#7af024" stroke-width="1.3" stroke-linecap="round" stroke-linejoin="round" />
<path d="M83.2 519.6L85.3 517.5" fill="none" stroke="#7af024" stroke-width="1.3" stroke-linecap="round" stroke-linejoin="round" />
<path d="M88.4 511.4L89.8 514.5" fill="none" stroke="#7af024" stroke-width="1.3" stroke-linecap="round" stroke-linejoin="round" />
<path d="M92.5 467.2L95.5 473.4L93.5 480.6" fill="none" stroke="#7af024" stroke-width="1.4" stroke-linecap="round" stroke-linejoin="round" />
<path d="M89.4 478.5L93.5 480.6L96.6 484.7" fill="none" stroke="#7af024" stroke-width="1.4" stroke-linecap="round" stroke-linejoin="round" />
<path d="M97.6 477.5L99.7 478.5" fill="none" stroke="#47ae14" stroke-width="1.2" stroke-linecap="round" stroke-linejoin="round" />
<path d="M106.8 463.1L113.0 468.3L117.1 471.3" fill="none" stroke="#7af024" stroke-width="1.7" stroke-linecap="round" stroke-linejoin="round" />
<path d="M115.1 463.1L115.1 470.3L113.0 478.5L109.9 482.6" fill="none" stroke="#7af024" stroke-width="1.4" stroke-linecap="round" stroke-linejoin="round" />
<path d="M102.7 476.5L108.9 479.6L113.0 478.5" fill="none" stroke="#7af024" stroke-width="1.3" stroke-linecap="round" stroke-linejoin="round" />
<path d="M107.9 488.8L110.9 489.8" fill="none" stroke="#7af024" stroke-width="1.4" stroke-linecap="round" stroke-linejoin="round" />
<path d="M115.1 483.7L122.2 483.7L128.4 486.7L134.6 491.9L132.5 496.0L126.3 498.0L118.1 499.1L112.0 499.1L107.9 502.1" fill="none" stroke="#7af024" stroke-width="1.7" stroke-linecap="round" stroke-linejoin="round" />
<path d="M115.1 490.9L120.2 493.9L124.3 495.0" fill="none" stroke="#7af024" stroke-width="1.5" stroke-linecap="round" stroke-linejoin="round" />
<path d="M132.5 498.0L138.7 501.1L144.8 503.2" fill="none" stroke="#7af024" stroke-width="1.4" stroke-linecap="round" stroke-linejoin="round" />
<path d="M93.5 493.9L92.5 501.1L94.5 507.3L98.6 509.3" fill="none" stroke="#7af024" stroke-width="1.5" stroke-linecap="round" stroke-linejoin="round" />
<path d="M124.3 509.3L130.5 511.4L137.6 513.4" fill="none" stroke="#7af024" stroke-width="2.8" stroke-linecap="round" stroke-linejoin="round" />
<path d="M101.7 519.6L106.8 516.5L110.9 513.4" fill="none" stroke="#7af024" stroke-width="2.4" stroke-linecap="round" stroke-linejoin="round" />
<path d="M122.2 516.5L124.3 521.7L126.3 525.8" fill="none" stroke="#7af024" stroke-width="1.4" stroke-linecap="round" stroke-linejoin="round" />
<path d="M146.9 509.3L147.9 514.5L144.8 518.6L141.7 519.6" fill="none" stroke="#7af024" stroke-width="1.5" stroke-linecap="round" stroke-linejoin="round" />
<path d="M141.7 519.6L143.8 524.7L151.0 525.8" fill="none" stroke="#7af024" stroke-width="1.4" stroke-linecap="round" stroke-linejoin="round" />
<path d="M142.8 527.8L150.0 530.9" fill="none" stroke="#7af024" stroke-width="1.3" stroke-linecap="round" stroke-linejoin="round" />
<path d="M99.7 525.8L103.8 528.8L106.8 532.9L105.8 537.1L101.7 540.1" fill="none" stroke="#7af024" stroke-width="1.5" stroke-linecap="round" stroke-linejoin="round" />
<path d="M106.8 532.9L115.1 528.8L124.3 526.8L131.5 527.8L135.6 529.9L136.6 532.9" fill="none" stroke="#7af024" stroke-width="1.6" stroke-linecap="round" stroke-linejoin="round" />
<path d="M69.9 530.9L77.1 530.9L85.3 531.9L91.4 535.0L94.5 540.1L95.5 544.2" fill="none" stroke="#7af024" stroke-width="1.7" stroke-linecap="round" stroke-linejoin="round" />
<path d="M71.9 523.7L74.0 527.8L76.0 530.9" fill="none" stroke="#7af024" stroke-width="1.4" stroke-linecap="round" stroke-linejoin="round" />
<path d="M91.4 535.0L95.5 532.9" fill="none" stroke="#7af024" stroke-width="1.3" stroke-linecap="round" stroke-linejoin="round" />
<path d="M58.6 530.9L59.6 537.1L56.5 544.2" fill="none" stroke="#7af024" stroke-width="2.2" stroke-linecap="round" stroke-linejoin="round" />
<path d="M67.8 547.3L70.9 545.3" fill="none" stroke="#7af024" stroke-width="1.3" stroke-linecap="round" stroke-linejoin="round" />
<path d="M80.1 540.1L81.2 544.2" fill="none" stroke="#7af024" stroke-width="1.3" stroke-linecap="round" stroke-linejoin="round" />
<path d="M106.8 544.2L114.0 541.2L120.2 539.1L124.3 540.1" fill="none" stroke="#7af024" stroke-width="1.6" stroke-linecap="round" stroke-linejoin="round" />
<path d="M117.1 545.3L120.2 548.3" fill="none" stroke="#7af024" stroke-width="1.3" stroke-linecap="round" stroke-linejoin="round" />
<path d="M141.7 539.1L142.8 544.2L140.7 548.3" fill="none" stroke="#7af024" stroke-width="1.8" stroke-linecap="round" stroke-linejoin="round" />
<path d="M154.1 540.1L157.1 542.2" fill="none" stroke="#7af024" stroke-width="1.8" stroke-linecap="round" stroke-linejoin="round" />
<path d="M163.3 539.1L165.4 544.2L168.4 548.3" fill="none" stroke="#7af024" stroke-width="1.5" stroke-linecap="round" stroke-linejoin="round" />
<path d="M154.1 464.2L157.1 468.3L155.1 474.4L152.0 480.6L151.0 484.7" fill="none" stroke="#7af024" stroke-width="1.6" stroke-linecap="round" stroke-linejoin="round" />
<path d="M157.1 468.3L161.3 465.2" fill="none" stroke="#7af024" stroke-width="1.3" stroke-linecap="round" stroke-linejoin="round" />
<path d="M145.9 482.6L151.0 484.7L153.0 490.9L157.1 496.0L159.2 498.0" fill="none" stroke="#7af024" stroke-width="2.3" stroke-linecap="round" stroke-linejoin="round" />
<path d="M163.3 480.6L164.3 484.7" fill="none" stroke="#47ae14" stroke-width="1.3" stroke-linecap="round" stroke-linejoin="round" />
<path d="M167.4 477.5L171.5 480.6" fill="none" stroke="#47ae14" stroke-width="1.2" stroke-linecap="round" stroke-linejoin="round" />
<path d="M164.3 489.8L169.5 492.9L172.6 498.0" fill="none" stroke="#7af024" stroke-width="1.4" stroke-linecap="round" stroke-linejoin="round" />
<path d="M172.6 505.2L176.7 508.3" fill="none" stroke="#7af024" stroke-width="1.4" stroke-linecap="round" stroke-linejoin="round" />
<path d="M168.4 515.5L173.6 514.5L176.7 511.4" fill="none" stroke="#7af024" stroke-width="1.5" stroke-linecap="round" stroke-linejoin="round" />
<path d="M155.1 523.7L159.2 526.8" fill="none" stroke="#7af024" stroke-width="1.3" stroke-linecap="round" stroke-linejoin="round" />
<path d="M167.4 528.8L172.6 530.9" fill="none" stroke="#7af024" stroke-width="1.4" stroke-linecap="round" stroke-linejoin="round" />
<path d="M175.6 532.9L177.7 534.0" fill="none" stroke="#7af024" stroke-width="1.4" stroke-linecap="round" stroke-linejoin="round" />
<path d="M150.0 462.1L154.1 464.2" fill="none" stroke="#7af024" stroke-width="1.4" stroke-linecap="round" stroke-linejoin="round" />
<path d="M167.4 463.1L171.5 467.2" fill="none" stroke="#47ae14" stroke-width="1.3" stroke-linecap="round" stroke-linejoin="round" />
<path d="M124.3 463.1L126.3 464.2" fill="none" stroke="#47ae14" stroke-width="1.2" stroke-linecap="round" stroke-linejoin="round" />
<path d="M56.5 561.5L61.7 558.4L63.7 559.4" fill="none" stroke="#7af024" stroke-width="1.8" stroke-linecap="round" stroke-linejoin="round" />
<path d="M59.6 562.5L66.8 564.5L76.0 563.5L83.2 561.5L86.3 558.4L85.3 553.2" fill="none" stroke="#7af024" stroke-width="1.5" stroke-linecap="round" stroke-linejoin="round" />
<path d="M68.9 566.6L70.9 568.6" fill="none" stroke="#7af024" stroke-width="1.3" stroke-linecap="round" stroke-linejoin="round" />
<path d="M71.9 556.3L74.0 559.4" fill="none" stroke="#7af024" stroke-width="1.4" stroke-linecap="round" stroke-linejoin="round" />
<path d="M66.8 545.0L74.0 548.1L79.1 551.2" fill="none" stroke="#7af024" stroke-width="1.5" stroke-linecap="round" stroke-linejoin="round" />
<path d="M85.3 553.2L90.4 554.3L97.6 555.3L105.8 556.3L108.9 560.4" fill="none" stroke="#7af024" stroke-width="1.4" stroke-linecap="round" stroke-linejoin="round" />
<path d="M84.3 552.2L88.4 548.1L96.6 547.1" fill="none" stroke="#7af024" stroke-width="1.5" stroke-linecap="round" stroke-linejoin="round" />
<path d="M90.4 554.3L89.4 561.5L93.5 564.5" fill="none" stroke="#7af024" stroke-width="1.3" stroke-linecap="round" stroke-linejoin="round" />
<path d="M97.6 562.5L103.8 563.5" fill="none" stroke="#7af024" stroke-width="1.3" stroke-linecap="round" stroke-linejoin="round" />
<path d="M95.5 565.6L101.7 567.6L107.9 569.7L113.0 571.7L115.1 572.7" fill="none" stroke="#7af024" stroke-width="1.4" stroke-linecap="round" stroke-linejoin="round" />
<path d="M69.9 578.9L74.0 574.8L81.2 572.7L89.4 573.2L95.5 574.8" fill="none" stroke="#7af024" stroke-width="2.0" stroke-linecap="round" stroke-linejoin="round" />
<path d="M101.7 577.9L105.8 582.0L110.9 584.0L115.1 582.0L114.0 577.9" fill="none" stroke="#7af024" stroke-width="1.4" stroke-linecap="round" stroke-linejoin="round" />
<path d="M114.0 554.3L115.1 560.4" fill="none" stroke="#7af024" stroke-width="1.3" stroke-linecap="round" stroke-linejoin="round" />
<path d="M117.1 551.2L124.3 552.2L129.4 550.2" fill="none" stroke="#7af024" stroke-width="1.4" stroke-linecap="round" stroke-linejoin="round" />
<path d="M123.3 563.5L127.4 562.9" fill="none" stroke="#7af024" stroke-width="1.3" stroke-linecap="round" stroke-linejoin="round" />
<path d="M126.3 570.7L132.5 567.6L138.7 563.5L142.8 562.1" fill="none" stroke="#7af024" stroke-width="1.5" stroke-linecap="round" stroke-linejoin="round" />
<path d="M142.8 562.1L144.8 566.6L143.8 570.7" fill="none" stroke="#7af024" stroke-width="1.5" stroke-linecap="round" stroke-linejoin="round" />
<path d="M142.8 562.1L147.9 561.5" fill="none" stroke="#7af024" stroke-width="1.4" stroke-linecap="round" stroke-linejoin="round" />
<path d="M128.4 577.9L132.5 574.8L134.6 573.8" fill="none" stroke="#7af024" stroke-width="1.4" stroke-linecap="round" stroke-linejoin="round" />
<path d="M132.5 578.9L137.6 582.0" fill="none" stroke="#7af024" stroke-width="1.3" stroke-linecap="round" stroke-linejoin="round" />
<path d="M154.1 557.3L157.1 562.5L161.3 563.5L167.4 562.5" fill="none" stroke="#7af024" stroke-width="1.4" stroke-linecap="round" stroke-linejoin="round" />
<path d="M154.1 569.7L159.2 568.6L165.4 567.6" fill="none" stroke="#7af024" stroke-width="1.4" stroke-linecap="round" stroke-linejoin="round" />
<path d="M162.3 575.8L167.4 574.8L173.6 575.8L177.7 574.8" fill="none" stroke="#7af024" stroke-width="1.5" stroke-linecap="round" stroke-linejoin="round" />
<path d="M161.3 576.9L163.3 582.0" fill="none" stroke="#7af024" stroke-width="1.3" stroke-linecap="round" stroke-linejoin="round" />
<path d="M167.4 556.3L172.6 560.4L177.7 561.5" fill="none" stroke="#7af024" stroke-width="1.4" stroke-linecap="round" stroke-linejoin="round" />
<path d="M169.5 549.1L177.7 553.2" fill="none" stroke="#7af024" stroke-width="1.4" stroke-linecap="round" stroke-linejoin="round" />
<path d="M140.7 548.1L142.8 545.0" fill="none" stroke="#7af024" stroke-width="1.3" stroke-linecap="round" stroke-linejoin="round" />
<path d="M152.0 581.0L157.1 582.0" fill="none" stroke="#7af024" stroke-width="1.3" stroke-linecap="round" stroke-linejoin="round" />
<path d="M167.4 590.2L173.6 592.3" fill="none" stroke="#7af024" stroke-width="1.4" stroke-linecap="round" stroke-linejoin="round" />
<path d="M154.1 593.3L159.2 591.2" fill="none" stroke="#7af024" stroke-width="1.4" stroke-linecap="round" stroke-linejoin="round" />
<path d="M119.2 586.5L121.2 587.5" fill="none" stroke="#7af024" stroke-width="1.5" stroke-linecap="round" stroke-linejoin="round" />
<path d="M105.8 590.2L108.9 594.3L114.0 596.4" fill="none" stroke="#7af024" stroke-width="1.8" stroke-linecap="round" stroke-linejoin="round" />
<path d="M73.0 593.3L77.1 595.3L81.2 596.4" fill="none" stroke="#7af024" stroke-width="2.6" stroke-linecap="round" stroke-linejoin="round" />
<path d="M136.6 599.4L138.7 599.9" fill="none" stroke="#7af024" stroke-width="1.4" stroke-linecap="round" stroke-linejoin="round" />
<polygon points="40.3,611.0 43.1,613.8 45.9,617.2 48.1,618.3 50.4,613.8 52.1,611.6 53.8,614.4 55.4,617.8 57.7,614.4 58.8,613.3 60.5,616.6 63.3,617.2 66.1,614.4 68.4,615.5 71.2,613.8 74.0,611.0 76.8,609.3 80.2,609.9 83.0,607.6 85.8,604.3 86.4,599.2 88.1,594.7 89.2,589.6 91.4,587.9 94.3,588.5 96.5,590.8 98.8,595.3 100.2,599.5 99.0,602.0 96.1,603.6 92.9,606.5 89.8,609.7 86.4,612.8 81.9,616.4 76.6,619.4 71.5,621.7 66.1,623.2 60.5,623.6 56.0,624.7 54.9,631.3 53.8,625.3 49.3,625.0 44.8,625.0 40.3,624.1" fill="#7af024" stroke="#7af024" stroke-width="0.5" stroke-linejoin="round"/>
<polygon points="71.2,593.0 74.0,591.9 77.4,593.6 80.8,595.8 82.4,597.5 79.6,598.1 75.7,596.9 72.3,595.3" fill="#7af024" stroke="#7af024" stroke-width="0.5" stroke-linejoin="round"/>
<polygon points="40.3,591.3 43.1,591.9 44.8,594.7 47.6,598.6 45.9,599.2 43.1,596.4 40.3,596.9" fill="#7af024" stroke="#7af024" stroke-width="0.5" stroke-linejoin="round"/>
<polygon points="68.9,579.5 71.8,576.7 75.1,575.0 76.3,575.6 73.4,578.4 71.8,581.2 72.3,584.0 71.2,584.6 70.1,581.8" fill="#7af024" stroke="#7af024" stroke-width="0.5" stroke-linejoin="round"/>
</g>
<path d="M61.1 461.1L58.6 474.4L56.1 488.8L54.1 503.2L52.4 519.6L52.0 536.0L52.8 550.0" fill="none" stroke="#fff" stroke-width="1.5" stroke-dasharray="2.3 1.7" stroke-linejoin="round" opacity="1"/>
<path d="M53.7 551.2L54.1 554.3L56.1 566.6L57.6 576.9L58.2 585.1L55.5 587.5L48.3 588.1L39.1 587.5" fill="none" stroke="#fff" stroke-width="1.5" stroke-dasharray="2.3 1.7" stroke-linejoin="round" opacity="1"/>
<path d="M39.1 627.8L52.4 628.2L64.7 627.2L77.1 624.1L89.4 617.9L99.7 610.7L106.8 605.6L114.0 604.0L128.4 603.5L148.9 602.5L167.4 601.5L178.7 600.5" fill="none" stroke="#fff" stroke-width="1.5" stroke-dasharray="2.3 1.7" stroke-linejoin="round" opacity="1"/>
<path d="M130.5 546.3L120.2 534.0L109.9 519.6L99.7 505.2L91.4 490.9L85.3 478.5L82.2 470.3L77.1 466.6L69.9 468.3L66.8 474.4L63.7 488.8L61.7 505.2L59.6 519.6L58.2 536.0L57.6 550.0L58.2 552.2L59.6 564.5L63.7 574.8L70.9 581.0L83.2 584.0L101.7 586.1L122.2 588.1L142.8 589.2L157.1 588.8L161.3 585.1L159.2 578.9L153.0 568.6L142.8 556.3L132.5 548.1L129.4 545.6" fill="none" stroke="#f0f0f0" stroke-width="0.85" stroke-dasharray="3.6 2.6" stroke-linejoin="round"/>
</g>
<line x1="147.90" y1="627.80" x2="171.50" y2="627.80" stroke="#fff" stroke-width="1.7" />
<clipPath id="c3"><rect x="38.6" y="641.1" width="138.20000000000002" height="170.29999999999995"/></clipPath>
<rect x="38.60" y="641.10" width="138.20" height="170.30" fill="#000" stroke="none" stroke-width="1" />
<g clip-path="url(#c3)">
<polygon points="69.7,639.7 65.8,654.5 62.3,670.9 59.6,689.4 58.6,705.8 59.0,728.0 59.2,728.2 60.2,734.3 62.3,748.7 64.7,763.1 64.7,773.3 60.6,778.5 52.4,779.9 37.0,779.9 37.6,812.4 60.6,811.3 62.7,810.3 73.0,805.8 85.3,798.0 95.5,787.7 103.8,780.5 112.0,777.4 126.3,774.4 142.8,770.3 159.2,766.1 178.7,761.6 177.8,640.1" fill="#040802"/>
<g filter="url(#vb)">
<path d="M91.4 643.2L89.4 648.3L91.4 654.5" fill="none" stroke="#276f0b" stroke-width="1.1" stroke-linecap="round" stroke-linejoin="round" />
<path d="M73.0 648.3L77.1 644.2" fill="none" stroke="#1a4d06" stroke-width="1" stroke-linecap="round" stroke-linejoin="round" />
<path d="M85.3 655.5L90.4 654.5" fill="none" stroke="#276f0b" stroke-width="1" stroke-linecap="round" stroke-linejoin="round" />
<path d="M94.5 656.5L97.6 662.7L96.6 674.0" fill="none" stroke="#47ae14" stroke-width="1.2" stroke-linecap="round" stroke-linejoin="round" />
<path d="M100.7 661.7L106.8 659.6L108.9 656.5" fill="none" stroke="#276f0b" stroke-width="1" stroke-linecap="round" stroke-linejoin="round" />
<path d="M115.1 642.2L117.1 647.3L117.7 651.4" fill="none" stroke="#47ae14" stroke-width="1.2" stroke-linecap="round" stroke-linejoin="round" />
<path d="M126.3 656.5L130.5 657.6L132.5 655.5" fill="none" stroke="#47ae14" stroke-width="1.2" stroke-linecap="round" stroke-linejoin="round" />
<path d="M132.5 662.7L134.6 667.8L138.7 668.9" fill="none" stroke="#47ae14" stroke-width="1.3" stroke-linecap="round" stroke-linejoin="round" />
<path d="M132.5 648.3L134.6 644.2" fill="none" stroke="#276f0b" stroke-width="1" stroke-linecap="round" stroke-linejoin="round" />
<path d="M142.8 644.2L147.9 646.3L150.0 642.2" fill="none" stroke="#276f0b" stroke-width="1" stroke-linecap="round" stroke-linejoin="round" />
<path d="M140.7 655.5L143.8 659.6L142.8 661.7" fill="none" stroke="#276f0b" stroke-width="1.1" stroke-linecap="round" stroke-linejoin="round" />
<path d="M143.8 650.4L151.0 654.5L159.2 656.5L163.3 660.6L166.4 666.8" fill="none" stroke="#276f0b" stroke-width="1.1" stroke-linecap="round" stroke-linejoin="round" />
<path d="M159.2 656.5L161.3 650.4L164.3 645.2L167.4 643.2" fill="none" stroke="#276f0b" stroke-width="1.1" stroke-linecap="round" stroke-linejoin="round" />
<path d="M169.5 643.2L173.6 647.3L176.7 648.3" fill="none" stroke="#276f0b" stroke-width="1.1" stroke-linecap="round" stroke-linejoin="round" />
<path d="M167.4 667.8L172.6 671.9L175.6 674.0" fill="none" stroke="#276f0b" stroke-width="1.1" stroke-linecap="round" stroke-linejoin="round" />
<path d="M150.0 670.9L155.1 674.0L159.2 679.1L161.3 683.2" fill="none" stroke="#47ae14" stroke-width="1.2" stroke-linecap="round" stroke-linejoin="round" />
<path d="M120.2 675.0L126.3 677.1L132.5 680.1L138.7 677.1L142.8 675.0" fill="none" stroke="#276f0b" stroke-width="1.1" stroke-linecap="round" stroke-linejoin="round" />
<path d="M105.8 674.0L107.9 680.1L110.9 685.3" fill="none" stroke="#47ae14" stroke-width="1.3" stroke-linecap="round" stroke-linejoin="round" />
<path d="M109.9 691.4L114.0 694.5" fill="none" stroke="#276f0b" stroke-width="1.1" stroke-linecap="round" stroke-linejoin="round" />
<path d="M71.9 674.0L73.0 680.1" fill="none" stroke="#276f0b" stroke-width="1.1" stroke-linecap="round" stroke-linejoin="round" />
<path d="M75.0 689.4L83.2 688.4L89.4 690.4L94.5 691.4L97.6 686.3" fill="none" stroke="#276f0b" stroke-width="1.1" stroke-linecap="round" stroke-linejoin="round" />
<circle cx="97.6" cy="686.3" r="0.9" fill="#7af024"/>
<circle cx="102.7" cy="689.8" r="1.0" fill="#7af024"/>
<path d="M78.1 705.8L84.3 699.7L86.3 697.6L91.4 700.7L94.5 705.8L96.6 708.9" fill="none" stroke="#276f0b" stroke-width="1.2" stroke-linecap="round" stroke-linejoin="round" />
<path d="M96.6 708.9L103.8 705.8L106.8 703.8L110.9 708.9" fill="none" stroke="#276f0b" stroke-width="1.1" stroke-linecap="round" stroke-linejoin="round" />
<path d="M96.6 708.9L93.5 713.0L90.4 716.1" fill="none" stroke="#276f0b" stroke-width="1.1" stroke-linecap="round" stroke-linejoin="round" />
<path d="M121.2 701.7L120.2 706.8L122.2 709.9" fill="none" stroke="#47ae14" stroke-width="1.5" stroke-linecap="round" stroke-linejoin="round" />
<path d="M147.9 684.3L148.9 687.3" fill="none" stroke="#47ae14" stroke-width="1.3" stroke-linecap="round" stroke-linejoin="round" />
<path d="M143.8 693.5L141.7 697.6L142.8 700.7" fill="none" stroke="#276f0b" stroke-width="1.1" stroke-linecap="round" stroke-linejoin="round" />
<path d="M126.3 693.5L132.5 692.5L138.7 694.5L142.8 697.6" fill="none" stroke="#1a4d06" stroke-width="1" stroke-linecap="round" stroke-linejoin="round" />
<path d="M128.4 699.7L132.5 703.8L138.7 706.8L146.9 707.9L154.1 705.8" fill="none" stroke="#1a4d06" stroke-width="1" stroke-linecap="round" stroke-linejoin="round" />
<path d="M155.1 695.5L159.2 699.7" fill="none" stroke="#276f0b" stroke-width="1" stroke-linecap="round" stroke-linejoin="round" />
<path d="M146.9 714.0L153.0 716.1L159.2 718.1" fill="none" stroke="#276f0b" stroke-width="1.1" stroke-linecap="round" stroke-linejoin="round" />
<path d="M164.3 713.0L169.5 714.0L173.6 717.1L175.6 722.2" fill="none" stroke="#276f0b" stroke-width="1.2" stroke-linecap="round" stroke-linejoin="round" />
<path d="M170.5 694.5L174.6 696.6L176.7 697.6" fill="none" stroke="#47ae14" stroke-width="1.4" stroke-linecap="round" stroke-linejoin="round" />
<circle cx="159.2" cy="680.1" r="0.8" fill="#7af024"/>
<circle cx="134.6" cy="680.1" r="0.9" fill="#47ae14"/>
<circle cx="148.5" cy="685.3" r="0.8" fill="#7af024"/>
<path d="M69.9 720.2L71.9 723.3" fill="none" stroke="#47ae14" stroke-width="1.5" stroke-linecap="round" stroke-linejoin="round" />
<path d="M99.7 714.0L105.8 717.1L112.0 720.2L118.1 724.3" fill="none" stroke="#1a4d06" stroke-width="1" stroke-linecap="round" stroke-linejoin="round" />
<path d="M124.3 722.2L126.3 726.3" fill="none" stroke="#276f0b" stroke-width="1.1" stroke-linecap="round" stroke-linejoin="round" />
<path d="M154.1 722.2L159.2 724.3L163.3 727.4" fill="none" stroke="#276f0b" stroke-width="1.1" stroke-linecap="round" stroke-linejoin="round" />
<path d="M68.9 739.5L71.9 735.3L77.1 733.3L85.3 734.3" fill="none" stroke="#276f0b" stroke-width="1.2" stroke-linecap="round" stroke-linejoin="round" />
<path d="M79.1 742.5L83.2 743.6" fill="none" stroke="#47ae14" stroke-width="1.5" stroke-linecap="round" stroke-linejoin="round" />
<path d="M106.8 729.2L108.9 731.2" fill="none" stroke="#47ae14" stroke-width="1.4" stroke-linecap="round" stroke-linejoin="round" />
<path d="M97.6 740.5L103.8 739.5L107.9 741.5L110.9 745.6L117.1 746.6L120.2 746.2" fill="none" stroke="#276f0b" stroke-width="1.2" stroke-linecap="round" stroke-linejoin="round" />
<path d="M107.9 741.5L103.8 746.6L101.7 749.7" fill="none" stroke="#276f0b" stroke-width="1.1" stroke-linecap="round" stroke-linejoin="round" />
<path d="M110.9 745.6L113.0 750.7L114.0 755.9" fill="none" stroke="#276f0b" stroke-width="1.1" stroke-linecap="round" stroke-linejoin="round" />
<path d="M117.1 746.6L122.2 740.5L127.4 736.4" fill="none" stroke="#276f0b" stroke-width="1.1" stroke-linecap="round" stroke-linejoin="round" />
<path d="M126.3 733.3L132.5 731.2L138.7 733.3" fill="none" stroke="#1a4d06" stroke-width="1" stroke-linecap="round" stroke-linejoin="round" />
<path d="M134.6 742.5L136.6 748.7L140.7 746.6L142.8 741.5L144.8 737.4" fill="none" stroke="#276f0b" stroke-width="1.2" stroke-linecap="round" stroke-linejoin="round" />
<path d="M159.2 730.2L160.2 736.4L159.2 740.5" fill="none" stroke="#47ae14" stroke-width="1.4" stroke-linecap="round" stroke-linejoin="round" />
<path d="M167.4 735.3L171.5 737.4" fill="none" stroke="#276f0b" stroke-width="1.1" stroke-linecap="round" stroke-linejoin="round" />
<path d="M171.5 723.0L175.6 725.1" fill="none" stroke="#47ae14" stroke-width="1.2" stroke-linecap="round" stroke-linejoin="round" />
<path d="M167.4 746.6L173.6 744.6" fill="none" stroke="#276f0b" stroke-width="1.1" stroke-linecap="round" stroke-linejoin="round" />
<path d="M154.1 753.8L159.2 755.9L163.3 757.9" fill="none" stroke="#7af024" stroke-width="1.5" stroke-linecap="round" stroke-linejoin="round" />
<path d="M129.4 760.0L134.6 762.0L138.7 760.0" fill="none" stroke="#47ae14" stroke-width="1.5" stroke-linecap="round" stroke-linejoin="round" />
<path d="M122.2 756.9L125.3 755.9" fill="none" stroke="#47ae14" stroke-width="1.2" stroke-linecap="round" stroke-linejoin="round" />
<path d="M105.8 772.3L109.9 774.4" fill="none" stroke="#47ae14" stroke-width="1.3" stroke-linecap="round" stroke-linejoin="round" />
<polygon points="40.3,808.3 42.5,806.0 47.0,804.3 53.8,803.8 60.5,803.2 66.1,800.4 71.8,797.6 77.4,794.2 83.0,790.3 87.5,786.3 90.9,782.4 92.0,778.4 90.9,774.5 89.2,770.6 90.3,766.6 93.1,764.9 96.5,766.1 99.9,767.8 102.7,770.6 104.9,773.9 105.5,777.9 103.3,781.3 99.9,782.9 96.5,782.4 95.4,785.8 92.0,790.3 87.5,794.2 83.0,797.6 77.4,800.9 71.8,804.3 66.1,807.1 60.5,808.8 53.8,809.9 47.0,810.5 40.3,811.1" fill="#5ed219" stroke="#5ed219" stroke-width="0.5" stroke-linejoin="round"/>
<polygon points="69.5,756.5 71.8,755.9 72.3,759.9 71.2,763.3 69.5,761.6" fill="#5ed219" stroke="#5ed219" stroke-width="0.5" stroke-linejoin="round"/>
<polygon points="70.1,773.9 72.9,769.4 74.6,772.8 74.0,777.3 71.2,779.6 69.5,777.3" fill="#5ed219" stroke="#5ed219" stroke-width="0.5" stroke-linejoin="round"/>
<circle cx="89.2" cy="790.4" r="0.42" fill="#0f2c03"/>
<circle cx="98.5" cy="774.8" r="0.72" fill="#0f2c03"/>
<circle cx="68.8" cy="800.7" r="0.42" fill="#0f2c03"/>
<circle cx="55.2" cy="805.2" r="0.60" fill="#0f2c03"/>
<circle cx="72.6" cy="801.2" r="0.42" fill="#0f2c03"/>
<circle cx="94.7" cy="771.7" r="0.42" fill="#0f2c03"/>
<circle cx="62.6" cy="803.0" r="0.44" fill="#0f2c03"/>
<circle cx="80.0" cy="797.1" r="0.44" fill="#0f2c03"/>
<circle cx="96.3" cy="769.5" r="0.59" fill="#0f2c03"/>
<circle cx="55.3" cy="807.2" r="0.57" fill="#0f2c03"/>
<circle cx="100.6" cy="773.8" r="0.60" fill="#0f2c03"/>
<circle cx="95.6" cy="774.7" r="0.46" fill="#0f2c03"/>
<circle cx="69.1" cy="800.2" r="0.57" fill="#0f2c03"/>
<circle cx="87.8" cy="790.1" r="0.74" fill="#0f2c03"/>
<circle cx="55.0" cy="805.6" r="0.52" fill="#0f2c03"/>
<circle cx="96.0" cy="777.3" r="0.43" fill="#0f2c03"/>
<circle cx="101.5" cy="775.9" r="0.51" fill="#0f2c03"/>
<circle cx="87.0" cy="791.1" r="0.56" fill="#0f2c03"/>
<circle cx="57.7" cy="806.7" r="0.63" fill="#0f2c03"/>
<circle cx="46.2" cy="806.7" r="0.60" fill="#0f2c03"/>
<circle cx="100.8" cy="778.2" r="0.54" fill="#0f2c03"/>
<circle cx="97.8" cy="780.6" r="0.52" fill="#0f2c03"/>
<circle cx="93.0" cy="768.4" r="0.67" fill="#0f2c03"/>
<circle cx="65.4" cy="804.0" r="0.72" fill="#0f2c03"/>
<circle cx="93.9" cy="775.4" r="0.59" fill="#0f2c03"/>
<circle cx="65.9" cy="805.6" r="0.50" fill="#0f2c03"/>
<circle cx="95.1" cy="786.4" r="0.53" fill="#0f2c03"/>
<circle cx="69.6" cy="799.8" r="0.48" fill="#0f2c03"/>
<circle cx="68.7" cy="802.1" r="0.46" fill="#0f2c03"/>
<circle cx="76.5" cy="796.2" r="0.53" fill="#0f2c03"/>
<circle cx="94.2" cy="768.7" r="0.70" fill="#0f2c03"/>
<circle cx="96.4" cy="770.9" r="0.56" fill="#0f2c03"/>
<circle cx="100.6" cy="778.6" r="0.54" fill="#0f2c03"/>
<circle cx="54.8" cy="806.4" r="0.47" fill="#0f2c03"/>
<circle cx="71.4" cy="799.5" r="0.61" fill="#0f2c03"/>
<circle cx="51.7" cy="805.5" r="0.44" fill="#0f2c03"/>
<circle cx="87.1" cy="789.3" r="0.47" fill="#0f2c03"/>
<circle cx="89.8" cy="784.9" r="0.52" fill="#0f2c03"/>
<circle cx="86.2" cy="789.4" r="0.57" fill="#0f2c03"/>
<circle cx="96.4" cy="775.0" r="0.45" fill="#0f2c03"/>
<circle cx="87.9" cy="790.7" r="0.64" fill="#0f2c03"/>
<circle cx="98.0" cy="776.1" r="0.58" fill="#0f2c03"/>
<circle cx="65.1" cy="805.8" r="0.67" fill="#0f2c03"/>
<circle cx="82.6" cy="797.8" r="0.64" fill="#0f2c03"/>
<circle cx="79.7" cy="797.9" r="0.52" fill="#0f2c03"/>
<circle cx="72.0" cy="801.9" r="0.52" fill="#0f2c03"/>
<circle cx="72.5" cy="802.0" r="0.67" fill="#0f2c03"/>
<circle cx="73.7" cy="802.1" r="0.66" fill="#0f2c03"/>
<circle cx="69.9" cy="800.9" r="0.66" fill="#0f2c03"/>
<circle cx="46.6" cy="807.3" r="0.47" fill="#0f2c03"/>
<circle cx="98.3" cy="769.8" r="0.73" fill="#0f2c03"/>
<circle cx="89.2" cy="790.3" r="0.48" fill="#0f2c03"/>
<circle cx="71.6" cy="800.4" r="0.57" fill="#0f2c03"/>
<circle cx="97.5" cy="769.9" r="0.63" fill="#0f2c03"/>
<circle cx="96.1" cy="779.6" r="0.72" fill="#0f2c03"/>
<circle cx="71.6" cy="799.8" r="0.68" fill="#0f2c03"/>
<circle cx="83.8" cy="792.4" r="0.65" fill="#0f2c03"/>
<circle cx="95.9" cy="777.2" r="0.65" fill="#0f2c03"/>
<circle cx="67.0" cy="802.6" r="0.61" fill="#0f2c03"/>
<circle cx="98.4" cy="774.4" r="0.69" fill="#0f2c03"/>
<circle cx="97.5" cy="775.1" r="0.59" fill="#0f2c03"/>
<circle cx="60.9" cy="805.4" r="0.65" fill="#0f2c03"/>
<circle cx="55.0" cy="808.4" r="0.55" fill="#0f2c03"/>
<circle cx="73.8" cy="799.9" r="0.49" fill="#0f2c03"/>
<circle cx="79.6" cy="797.4" r="0.51" fill="#0f2c03"/>
<circle cx="100.5" cy="773.2" r="0.72" fill="#0f2c03"/>
<circle cx="88.9" cy="791.4" r="0.69" fill="#0f2c03"/>
<circle cx="100.5" cy="776.0" r="0.58" fill="#0f2c03"/>
<circle cx="98.8" cy="774.5" r="0.71" fill="#0f2c03"/>
<circle cx="64.6" cy="805.3" r="0.45" fill="#0f2c03"/>
<circle cx="63.7" cy="805.1" r="0.59" fill="#0f2c03"/>
<circle cx="87.5" cy="790.9" r="0.57" fill="#0f2c03"/>
<circle cx="57.3" cy="805.2" r="0.47" fill="#0f2c03"/>
<circle cx="46.5" cy="807.4" r="0.60" fill="#0f2c03"/>
<circle cx="54.5" cy="807.2" r="0.58" fill="#0f2c03"/>
<circle cx="99.1" cy="773.7" r="0.58" fill="#0f2c03"/>
<circle cx="96.6" cy="774.7" r="0.58" fill="#0f2c03"/>
<circle cx="82.3" cy="797.9" r="0.47" fill="#0f2c03"/>
<circle cx="94.2" cy="774.3" r="0.55" fill="#0f2c03"/>
<circle cx="56.0" cy="806.5" r="0.47" fill="#0f2c03"/>
<circle cx="81.4" cy="797.9" r="0.45" fill="#0f2c03"/>
<circle cx="99.8" cy="777.7" r="0.71" fill="#0f2c03"/>
<circle cx="94.7" cy="777.3" r="0.54" fill="#0f2c03"/>
<circle cx="94.4" cy="776.2" r="0.48" fill="#0f2c03"/>
<circle cx="95.1" cy="785.4" r="0.55" fill="#0f2c03"/>
<circle cx="85.2" cy="791.6" r="0.41" fill="#0f2c03"/>
<circle cx="100.7" cy="775.2" r="0.53" fill="#0f2c03"/>
<circle cx="101.8" cy="774.5" r="0.42" fill="#0f2c03"/>
<circle cx="74.7" cy="799.5" r="0.49" fill="#0f2c03"/>
<circle cx="47.3" cy="806.2" r="0.66" fill="#0f2c03"/>
</g>
<path d="M69.7 639.7L65.8 654.5L62.3 670.9L59.6 689.4L58.6 705.8L59.0 728.0" fill="none" stroke="#fff" stroke-width="1.25" stroke-dasharray="4 2.6" stroke-linejoin="round" opacity="1"/>
<path d="M59.2 728.2L60.2 734.3L62.3 748.7L64.7 763.1L64.7 773.3L60.6 778.5L52.4 779.9L37.0 779.9" fill="none" stroke="#fff" stroke-width="1.25" stroke-dasharray="4 2.6" stroke-linejoin="round" opacity="1"/>
<path d="M60.6 811.3L62.7 810.3L73.0 805.8L85.3 798.0L95.5 787.7L103.8 780.5L112.0 777.4L126.3 774.4L142.8 770.3L159.2 766.1L178.7 761.6" fill="none" stroke="#fff" stroke-width="1.25" stroke-dasharray="4 2.6" stroke-linejoin="round" opacity="1"/>
<path d="M144.8 728.0L138.7 720.2L126.3 703.8L114.0 687.3L103.8 670.9L94.5 656.5L90.4 649.3L86.3 647.3L80.1 647.9L76.0 652.4L74.0 662.7L71.9 677.1L69.9 693.5L68.4 709.9L67.8 728.0L68.2 728.2L68.9 734.3L71.9 744.6L77.1 751.8L85.3 755.9L97.6 757.9L118.1 759.4L138.7 759.4L155.1 759.0L162.3 755.9L163.3 750.7L159.2 742.5L151.0 733.3L145.9 728.2" fill="none" stroke="#f0f0f0" stroke-width="0.85" stroke-dasharray="3.8 2.6" stroke-linejoin="round"/>
</g>
<line x1="146.30" y1="805.80" x2="169.90" y2="805.80" stroke="#fff" stroke-width="1.7" />
<text x="249.00" y="261.60" font-size="16.5" text-anchor="start" fill="#000" font-weight="bold" font-style="normal" font-family="Liberation Sans, sans-serif" >E</text>
<line x1="316.90" y1="305.90" x2="316.90" y2="472.40" stroke="#000" stroke-width="1.35" />
<line x1="311.90" y1="471.80" x2="316.90" y2="471.80" stroke="#000" stroke-width="1.25" />
<text x="311.20" y="475.90" font-size="11.5" text-anchor="end" fill="#000" stroke="#000" stroke-width="0.22" font-weight="normal" font-style="normal" font-family="Liberation Sans, sans-serif" >1.0</text>
<line x1="311.90" y1="444.25" x2="316.90" y2="444.25" stroke="#000" stroke-width="1.25" />
<text x="311.20" y="448.35" font-size="11.5" text-anchor="end" fill="#000" stroke="#000" stroke-width="0.22" font-weight="normal" font-style="normal" font-family="Liberation Sans, sans-serif" >1.5</text>
<line x1="311.90" y1="416.70" x2="316.90" y2="416.70" stroke="#000" stroke-width="1.25" />
<text x="311.20" y="420.80" font-size="11.5" text-anchor="end" fill="#000" stroke="#000" stroke-width="0.22" font-weight="normal" font-style="normal" font-family="Liberation Sans, sans-serif" >2.0</text>
<line x1="311.90" y1="389.15" x2="316.90" y2="389.15" stroke="#000" stroke-width="1.25" />
<text x="311.20" y="393.25" font-size="11.5" text-anchor="end" fill="#000" stroke="#000" stroke-width="0.22" font-weight="normal" font-style="normal" font-family="Liberation Sans, sans-serif" >2.5</text>
<line x1="311.90" y1="361.60" x2="316.90" y2="361.60" stroke="#000" stroke-width="1.25" />
<text x="311.20" y="365.70" font-size="11.5" text-anchor="end" fill="#000" stroke="#000" stroke-width="0.22" font-weight="normal" font-style="normal" font-family="Liberation Sans, sans-serif" >3.0</text>
<line x1="311.90" y1="334.05" x2="316.90" y2="334.05" stroke="#000" stroke-width="1.25" />
<text x="311.20" y="338.15" font-size="11.5" text-anchor="end" fill="#000" stroke="#000" stroke-width="0.22" font-weight="normal" font-style="normal" font-family="Liberation Sans, sans-serif" >3.5</text>
<line x1="311.90" y1="306.50" x2="316.90" y2="306.50" stroke="#000" stroke-width="1.25" />
<text x="311.20" y="310.60" font-size="11.5" text-anchor="end" fill="#000" stroke="#000" stroke-width="0.22" font-weight="normal" font-style="normal" font-family="Liberation Sans, sans-serif" >4.0</text>
<line x1="322.20" y1="479.60" x2="490.20" y2="479.60" stroke="#000" stroke-width="1.35" />
<line x1="322.80" y1="479.60" x2="322.80" y2="484.40" stroke="#000" stroke-width="1.25" />
<text x="322.80" y="495.60" font-size="11.5" text-anchor="middle" fill="#000" stroke="#000" stroke-width="0.22" font-weight="normal" font-style="normal" font-family="Liberation Sans, sans-serif" >0</text>
<line x1="364.50" y1="479.60" x2="364.50" y2="484.40" stroke="#000" stroke-width="1.25" />
<text x="364.50" y="495.60" font-size="11.5" text-anchor="middle" fill="#000" stroke="#000" stroke-width="0.22" font-weight="normal" font-style="normal" font-family="Liberation Sans, sans-serif" >5</text>
<line x1="406.20" y1="479.60" x2="406.20" y2="484.40" stroke="#000" stroke-width="1.25" />
<text x="406.20" y="495.60" font-size="11.5" text-anchor="middle" fill="#000" stroke="#000" stroke-width="0.22" font-weight="normal" font-style="normal" font-family="Liberation Sans, sans-serif" >10</text>
<line x1="447.90" y1="479.60" x2="447.90" y2="484.40" stroke="#000" stroke-width="1.25" />
<text x="447.90" y="495.60" font-size="11.5" text-anchor="middle" fill="#000" stroke="#000" stroke-width="0.22" font-weight="normal" font-style="normal" font-family="Liberation Sans, sans-serif" >15</text>
<line x1="489.60" y1="479.60" x2="489.60" y2="484.40" stroke="#000" stroke-width="1.25" />
<text x="489.60" y="495.60" font-size="11.5" text-anchor="middle" fill="#000" stroke="#000" stroke-width="0.22" font-weight="normal" font-style="normal" font-family="Liberation Sans, sans-serif" >20</text>
<text x="406.60" y="508.60" font-size="12.8" text-anchor="middle" fill="#000" stroke="#000" stroke-width="0.22" font-weight="normal" font-style="normal" font-family="Liberation Sans, sans-serif" >Fat mass (g)</text>
<text x="269.60" y="384.40" font-size="12.7" text-anchor="middle" fill="#000" stroke="#000" stroke-width="0.22" font-weight="normal" font-style="normal" font-family="Liberation Sans, sans-serif" transform="rotate(-90 269.60 384.40)" >Length of vessels in the MBH</text>
<text x="285.20" y="384.70" font-size="12.5" text-anchor="middle" fill="#000" stroke="#000" stroke-width="0.22" font-weight="normal" font-style="normal" font-family="Liberation Sans, sans-serif" transform="rotate(-90 285.20 384.70)" >(mm)</text>
<line x1="317.90" y1="386.70" x2="428.40" y2="386.70" stroke="#000" stroke-width="1.2" stroke-dasharray="1.1 1.7"/>
<line x1="428.40" y1="386.70" x2="428.40" y2="478.90" stroke="#000" stroke-width="1.2" stroke-dasharray="1.1 1.7"/>
<line x1="317.90" y1="437.00" x2="332.00" y2="437.00" stroke="#000" stroke-width="1.2" stroke-dasharray="1.1 1.7"/>
<line x1="331.80" y1="447.50" x2="331.80" y2="478.90" stroke="#000" stroke-width="1.2" stroke-dasharray="1.1 1.7"/>
<line x1="325.30" y1="439.10" x2="484.80" y2="365.40" stroke="#d8301c" stroke-width="1.5" />
<circle cx="334.90" cy="421.00" r="2.25" fill="#8a8aff" fill-opacity="0.95" stroke="#3828fa" stroke-width="0.95"/>
<path d="M333.31 419.41L336.49 422.59M333.31 422.59L336.49 419.41" stroke="#3828fa" stroke-width="0.95" fill="none"/>
<circle cx="328.40" cy="432.80" r="2.25" fill="#8a8aff" fill-opacity="0.95" stroke="#3828fa" stroke-width="0.95"/>
<path d="M326.81 431.21L329.99 434.39M326.81 434.39L329.99 431.21" stroke="#3828fa" stroke-width="0.95" fill="none"/>
<circle cx="335.80" cy="434.90" r="2.25" fill="#8a8aff" fill-opacity="0.95" stroke="#3828fa" stroke-width="0.95"/>
<path d="M334.21 433.31L337.39 436.49M334.21 436.49L337.39 433.31" stroke="#3828fa" stroke-width="0.95" fill="none"/>
<circle cx="342.20" cy="433.50" r="2.25" fill="#8a8aff" fill-opacity="0.95" stroke="#3828fa" stroke-width="0.95"/>
<path d="M340.61 431.91L343.79 435.09M340.61 435.09L343.79 431.91" stroke="#3828fa" stroke-width="0.95" fill="none"/>
<circle cx="329.50" cy="446.30" r="2.25" fill="#8a8aff" fill-opacity="0.95" stroke="#3828fa" stroke-width="0.95"/>
<path d="M327.91 444.71L331.09 447.89M327.91 447.89L331.09 444.71" stroke="#3828fa" stroke-width="0.95" fill="none"/>
<circle cx="332.90" cy="419.70" r="2.35" fill="#86cfcf" stroke="#111" stroke-width="0.7" />
<circle cx="342.70" cy="426.40" r="2.35" fill="#86cfcf" stroke="#111" stroke-width="0.7" />
<circle cx="348.90" cy="435.00" r="2.35" fill="#86cfcf" stroke="#111" stroke-width="0.7" />
<circle cx="329.00" cy="437.40" r="2.35" fill="#86cfcf" stroke="#111" stroke-width="0.7" />
<circle cx="368.70" cy="437.60" r="2.35" fill="#86cfcf" stroke="#111" stroke-width="0.7" />
<circle cx="380.20" cy="426.40" r="2.35" fill="#86cfcf" stroke="#111" stroke-width="0.7" />
<circle cx="332.10" cy="428.60" r="2.35" fill="#8c94f6" stroke="#111" stroke-width="0.7" />
<circle cx="336.30" cy="429.60" r="2.35" fill="#8c94f6" stroke="#111" stroke-width="0.7" />
<circle cx="334.60" cy="437.40" r="2.35" fill="#8c94f6" stroke="#111" stroke-width="0.7" />
<circle cx="331.20" cy="439.90" r="2.35" fill="#8c94f6" stroke="#111" stroke-width="0.7" />
<circle cx="333.40" cy="441.30" r="2.35" fill="#8c94f6" stroke="#111" stroke-width="0.7" />
<circle cx="325.80" cy="448.00" r="2.35" fill="#8c94f6" stroke="#111" stroke-width="0.7" />
<circle cx="375.60" cy="413.40" r="2.35" fill="#1c10e0" stroke="#05052a" stroke-width="0.7" />
<circle cx="391.60" cy="408.70" r="2.35" fill="#1c10e0" stroke="#05052a" stroke-width="0.7" />
<circle cx="415.10" cy="367.20" r="2.35" fill="#1c10e0" stroke="#05052a" stroke-width="0.7" />
<circle cx="452.70" cy="375.40" r="2.35" fill="#1c10e0" stroke="#05052a" stroke-width="0.7" />
<circle cx="449.80" cy="380.50" r="2.35" fill="#1c10e0" stroke="#05052a" stroke-width="0.7" />
<circle cx="484.10" cy="378.10" r="2.35" fill="#1c10e0" stroke="#05052a" stroke-width="0.7" />
<text x="399.20" y="327.50" font-size="15.4" text-anchor="middle" fill="#000" stroke="#000" stroke-width="0.22" font-weight="normal" font-style="normal" font-family="Liberation Sans, sans-serif" textLength="78" lengthAdjust="spacing" ><tspan font-style="italic">r</tspan><tspan dy="-5" font-size="10.5">2</tspan><tspan dy="5"> = 0.8046</tspan></text>
<text x="339.20" y="471.60" font-size="15" text-anchor="start" fill="#222" stroke="#222" stroke-width="0.22" font-weight="normal" font-style="normal" font-family="Liberation Serif, sans-serif" >x</text>
<line x1="338.80" y1="461.90" x2="346.80" y2="461.90" stroke="#222" stroke-width="0.8" />
<text x="350.30" y="475.30" font-size="8.3" text-anchor="start" fill="#333" stroke="#333" stroke-width="0.22" font-weight="normal" font-style="italic" font-family="Liberation Sans, sans-serif" >SC diet</text>
<text x="437.20" y="471.60" font-size="15" text-anchor="start" fill="#222" stroke="#222" stroke-width="0.22" font-weight="normal" font-style="normal" font-family="Liberation Serif, sans-serif" >x</text>
<line x1="436.80" y1="461.90" x2="444.80" y2="461.90" stroke="#222" stroke-width="0.8" />
<text x="448.30" y="475.30" font-size="8.3" text-anchor="start" fill="#333" stroke="#333" stroke-width="0.22" font-weight="normal" font-style="italic" font-family="Liberation Sans, sans-serif" >HFHS diet</text>
<text x="641.60" y="328.10" font-size="12.5" text-anchor="middle" fill="#000" stroke="#000" stroke-width="0.22" font-weight="normal" font-style="normal" font-family="Liberation Sans, sans-serif" >Average 24h food intake</text>
<text x="642.00" y="343.10" font-size="12.5" text-anchor="middle" fill="#000" stroke="#000" stroke-width="0.22" font-weight="normal" font-style="normal" font-family="Liberation Sans, sans-serif" >(kcal)</text>
<line x1="644.25" y1="379.60" x2="653.79" y2="379.60" stroke="#000" stroke-width="1.3" />
<line x1="653.79" y1="376.70" x2="653.79" y2="382.50" stroke="#000" stroke-width="1.3" />
<rect x="598.30" y="375.30" width="45.95" height="8.60" fill="#8c94f6" stroke="#000" stroke-width="1.3" />
<rect x="598.30" y="390.20" width="49.85" height="8.20" fill="#2008ee" stroke="#000" stroke-width="1.3" />
<line x1="633.20" y1="408.60" x2="642.73" y2="408.60" stroke="#000" stroke-width="1.3" />
<line x1="642.73" y1="405.70" x2="642.73" y2="411.50" stroke="#000" stroke-width="1.3" />
<rect x="598.30" y="404.50" width="34.90" height="8.20" fill="#5b5be8" stroke="#000" stroke-width="1.3" />
<rect x="598.30" y="419.20" width="35.98" height="8.30" fill="#9fd8d6" stroke="#000" stroke-width="1.3" />
<line x1="598.30" y1="368.00" x2="598.30" y2="429.30" stroke="#000" stroke-width="1.35" />
<line x1="597.70" y1="372.10" x2="685.60" y2="372.10" stroke="#000" stroke-width="1.35" />
<line x1="598.30" y1="368.30" x2="598.30" y2="372.60" stroke="#000" stroke-width="1.25" />
<text x="598.30" y="364.80" font-size="11.3" text-anchor="middle" fill="#000" stroke="#000" stroke-width="0.22" font-weight="normal" font-style="normal" font-family="Liberation Sans, sans-serif" >0</text>
<line x1="619.97" y1="368.30" x2="619.97" y2="372.60" stroke="#000" stroke-width="1.25" />
<text x="619.97" y="364.80" font-size="11.3" text-anchor="middle" fill="#000" stroke="#000" stroke-width="0.22" font-weight="normal" font-style="normal" font-family="Liberation Sans, sans-serif" >5</text>
<line x1="641.65" y1="368.30" x2="641.65" y2="372.60" stroke="#000" stroke-width="1.25" />
<text x="641.65" y="364.80" font-size="11.3" text-anchor="middle" fill="#000" stroke="#000" stroke-width="0.22" font-weight="normal" font-style="normal" font-family="Liberation Sans, sans-serif" >10</text>
<line x1="663.32" y1="368.30" x2="663.32" y2="372.60" stroke="#000" stroke-width="1.25" />
<text x="663.32" y="364.80" font-size="11.3" text-anchor="middle" fill="#000" stroke="#000" stroke-width="0.22" font-weight="normal" font-style="normal" font-family="Liberation Sans, sans-serif" >15</text>
<line x1="685.00" y1="368.30" x2="685.00" y2="372.60" stroke="#000" stroke-width="1.25" />
<text x="685.00" y="364.80" font-size="11.3" text-anchor="middle" fill="#000" stroke="#000" stroke-width="0.22" font-weight="normal" font-style="normal" font-family="Liberation Sans, sans-serif" >20</text>
<line x1="511.50" y1="371.60" x2="511.50" y2="436.40" stroke="#000" stroke-width="1.1" />
<circle cx="521.90" cy="379.50" r="3.4" fill="#8c94f6" stroke="#111" stroke-width="0.8" />
<circle cx="521.90" cy="394.40" r="3.4" fill="#2008ee" stroke="#05052a" stroke-width="0.8" />
<circle cx="521.90" cy="409.50" r="3.5" fill="#8a8aff" fill-opacity="0.95" stroke="#3828fa" stroke-width="1.25"/>
<path d="M519.43 407.03L524.37 411.97M519.43 411.97L524.37 407.03" stroke="#3828fa" stroke-width="1.25" fill="none"/>
<circle cx="521.90" cy="426.30" r="3.4" fill="#9fd8d6" stroke="#111" stroke-width="0.8" />
<text x="593.00" y="382.90" font-size="11.1" text-anchor="end" fill="#000" stroke="#000" stroke-width="0.22" font-weight="normal" font-style="normal" font-family="Liberation Sans, sans-serif" >SC diet</text>
<text x="593.30" y="397.60" font-size="11.1" text-anchor="end" fill="#000" stroke="#000" stroke-width="0.22" font-weight="normal" font-style="normal" font-family="Liberation Sans, sans-serif" >HFHS diet</text>
<text x="594.90" y="412.40" font-size="11.1" text-anchor="end" fill="#000" stroke="#000" stroke-width="0.22" font-weight="normal" font-style="normal" font-family="Liberation Sans, sans-serif" >diet reversal</text>
<text x="577.90" y="428.00" font-size="11.3" text-anchor="middle" fill="#000" stroke="#000" stroke-width="0.22" font-weight="normal" font-style="normal" font-family="Liberation Sans, sans-serif" >CR</text>
<text x="577.90" y="438.60" font-size="8.5" text-anchor="middle" fill="#000" stroke="#000" stroke-width="0.22" font-weight="normal" font-style="normal" font-family="Liberation Sans, sans-serif" >(70 % kcal)</text>
<text x="249.00" y="593.00" font-size="16.5" text-anchor="start" fill="#000" font-weight="bold" font-style="normal" font-family="Liberation Sans, sans-serif" >F</text>
<line x1="317.10" y1="632.22" x2="317.10" y2="749.70" stroke="#000" stroke-width="1.35" />
<line x1="311.60" y1="749.10" x2="403.80" y2="749.10" stroke="#000" stroke-width="1.35" />
<line x1="312.10" y1="749.10" x2="317.10" y2="749.10" stroke="#000" stroke-width="1.25" />
<text x="310.70" y="753.20" font-size="11.4" text-anchor="end" fill="#000" stroke="#000" stroke-width="0.22" font-weight="normal" font-style="normal" font-family="Liberation Sans, sans-serif" >0</text>
<line x1="312.10" y1="720.03" x2="317.10" y2="720.03" stroke="#000" stroke-width="1.25" />
<text x="310.70" y="724.13" font-size="11.4" text-anchor="end" fill="#000" stroke="#000" stroke-width="0.22" font-weight="normal" font-style="normal" font-family="Liberation Sans, sans-serif" >20</text>
<line x1="312.10" y1="690.96" x2="317.10" y2="690.96" stroke="#000" stroke-width="1.25" />
<text x="310.70" y="695.06" font-size="11.4" text-anchor="end" fill="#000" stroke="#000" stroke-width="0.22" font-weight="normal" font-style="normal" font-family="Liberation Sans, sans-serif" >40</text>
<line x1="312.10" y1="661.89" x2="317.10" y2="661.89" stroke="#000" stroke-width="1.25" />
<text x="310.70" y="665.99" font-size="11.4" text-anchor="end" fill="#000" stroke="#000" stroke-width="0.22" font-weight="normal" font-style="normal" font-family="Liberation Sans, sans-serif" >60</text>
<line x1="312.10" y1="632.82" x2="317.10" y2="632.82" stroke="#000" stroke-width="1.25" />
<text x="310.70" y="636.92" font-size="11.4" text-anchor="end" fill="#000" stroke="#000" stroke-width="0.22" font-weight="normal" font-style="normal" font-family="Liberation Sans, sans-serif" >80</text>
<line x1="326.60" y1="749.10" x2="326.60" y2="752.30" stroke="#000" stroke-width="1.2" />
<line x1="348.50" y1="749.10" x2="348.50" y2="752.30" stroke="#000" stroke-width="1.2" />
<line x1="370.50" y1="749.10" x2="370.50" y2="752.30" stroke="#000" stroke-width="1.2" />
<line x1="392.40" y1="749.10" x2="392.40" y2="752.30" stroke="#000" stroke-width="1.2" />
<text x="273.30" y="687.00" font-size="12.1" text-anchor="middle" fill="#000" stroke="#000" stroke-width="0.22" font-weight="normal" font-style="normal" font-family="Liberation Sans, sans-serif" transform="rotate(-90 273.30 687.00)" >Number of VEGF<tspan dy="-4" font-size="8">+</tspan><tspan dy="4"> cells</tspan></text>
<text x="287.40" y="686.80" font-size="12.0" text-anchor="middle" fill="#000" stroke="#000" stroke-width="0.22" font-weight="normal" font-style="normal" font-family="Liberation Sans, sans-serif" transform="rotate(-90 287.40 686.80)" >in the MBH</text>
<text x="347.90" y="648.50" font-size="15.6" text-anchor="middle" fill="#000" stroke="#000" stroke-width="0.22" font-weight="normal" font-style="normal" font-family="Liberation Sans, sans-serif" >****</text>
<circle cx="326.60" cy="749.20" r="2.9" fill="#8c94f6" stroke="#111" stroke-width="0.7" />
<circle cx="321.50" cy="742.00" r="2.9" fill="#8c94f6" stroke="#111" stroke-width="0.7" />
<circle cx="323.00" cy="746.00" r="2.9" fill="#8c94f6" stroke="#111" stroke-width="0.7" />
<circle cx="326.00" cy="747.50" r="2.9" fill="#8c94f6" stroke="#111" stroke-width="0.7" />
<circle cx="330.00" cy="746.50" r="2.9" fill="#8c94f6" stroke="#111" stroke-width="0.7" />
<circle cx="332.50" cy="743.00" r="2.9" fill="#8c94f6" stroke="#111" stroke-width="0.7" />
<circle cx="325.00" cy="739.50" r="2.9" fill="#8c94f6" stroke="#111" stroke-width="0.7" />
<circle cx="328.50" cy="740.00" r="2.9" fill="#8c94f6" stroke="#111" stroke-width="0.7" />
<circle cx="327.00" cy="743.60" r="2.9" fill="#8c94f6" stroke="#111" stroke-width="0.7" />
<circle cx="322.50" cy="740.50" r="2.9" fill="#8c94f6" stroke="#111" stroke-width="0.7" />
<circle cx="331.00" cy="741.50" r="2.9" fill="#8c94f6" stroke="#111" stroke-width="0.7" />
<circle cx="329.00" cy="736.30" r="2.9" fill="#8c94f6" stroke="#111" stroke-width="0.7" />
<circle cx="324.80" cy="734.50" r="2.9" fill="#8c94f6" stroke="#111" stroke-width="0.7" />
<circle cx="329.70" cy="731.20" r="2.9" fill="#8c94f6" stroke="#111" stroke-width="0.7" />
<line x1="319.60" y1="741.60" x2="333.60" y2="741.60" stroke="#000" stroke-width="1.6" />
<line x1="326.60" y1="740.40" x2="326.60" y2="742.80" stroke="#000" stroke-width="1.0" />
<line x1="321.10" y1="740.40" x2="332.10" y2="740.40" stroke="#000" stroke-width="1.0" />
<line x1="321.10" y1="742.80" x2="332.10" y2="742.80" stroke="#000" stroke-width="1.0" />
<circle cx="348.88" cy="654.38" r="2.9" fill="#2408f0" stroke="#05052a" stroke-width="0.7" />
<circle cx="348.88" cy="669.00" r="2.9" fill="#2408f0" stroke="#05052a" stroke-width="0.7" />
<circle cx="345.22" cy="676.32" r="2.9" fill="#2408f0" stroke="#05052a" stroke-width="0.7" />
<circle cx="353.08" cy="681.25" r="2.9" fill="#2408f0" stroke="#05052a" stroke-width="0.7" />
<circle cx="352.53" cy="679.79" r="2.9" fill="#2408f0" stroke="#05052a" stroke-width="0.7" />
<circle cx="344.49" cy="686.19" r="2.9" fill="#2408f0" stroke="#05052a" stroke-width="0.7" />
<circle cx="350.34" cy="689.48" r="2.9" fill="#2408f0" stroke="#05052a" stroke-width="0.7" />
<circle cx="348.15" cy="692.23" r="2.9" fill="#2408f0" stroke="#05052a" stroke-width="0.7" />
<circle cx="352.17" cy="693.14" r="2.9" fill="#2408f0" stroke="#05052a" stroke-width="0.7" />
<circle cx="344.85" cy="694.97" r="2.9" fill="#2408f0" stroke="#05052a" stroke-width="0.7" />
<circle cx="349.43" cy="696.80" r="2.9" fill="#2408f0" stroke="#05052a" stroke-width="0.7" />
<circle cx="353.45" cy="697.16" r="2.9" fill="#2408f0" stroke="#05052a" stroke-width="0.7" />
<circle cx="347.05" cy="701.37" r="2.9" fill="#2408f0" stroke="#05052a" stroke-width="0.7" />
<circle cx="345.77" cy="706.85" r="2.9" fill="#2408f0" stroke="#05052a" stroke-width="0.7" />
<circle cx="351.80" cy="709.60" r="2.9" fill="#2408f0" stroke="#05052a" stroke-width="0.7" />
<circle cx="348.51" cy="713.25" r="2.9" fill="#2408f0" stroke="#05052a" stroke-width="0.7" />
<circle cx="345.77" cy="718.74" r="2.9" fill="#2408f0" stroke="#05052a" stroke-width="0.7" />
<circle cx="351.80" cy="718.74" r="2.9" fill="#2408f0" stroke="#05052a" stroke-width="0.7" />
<circle cx="348.88" cy="724.59" r="2.9" fill="#2408f0" stroke="#05052a" stroke-width="0.7" />
<circle cx="345.77" cy="731.17" r="2.9" fill="#2408f0" stroke="#05052a" stroke-width="0.7" />
<circle cx="351.80" cy="734.83" r="2.9" fill="#2408f0" stroke="#05052a" stroke-width="0.7" />
<circle cx="348.88" cy="737.94" r="2.9" fill="#2408f0" stroke="#05052a" stroke-width="0.7" />
<circle cx="350.34" cy="702.65" r="2.9" fill="#2408f0" stroke="#05052a" stroke-width="0.7" />
<circle cx="344.49" cy="698.62" r="2.9" fill="#2408f0" stroke="#05052a" stroke-width="0.7" />
<line x1="341.70" y1="699.50" x2="355.80" y2="699.50" stroke="#000" stroke-width="1.6" />
<line x1="348.50" y1="695.90" x2="348.50" y2="703.20" stroke="#000" stroke-width="1.2" />
<line x1="343.50" y1="695.90" x2="353.50" y2="695.90" stroke="#000" stroke-width="1.2" />
<line x1="343.50" y1="703.20" x2="353.50" y2="703.20" stroke="#000" stroke-width="1.2" />
<circle cx="370.60" cy="749.00" r="2.7" fill="#8a8aff" fill-opacity="0.95" stroke="#3424fb" stroke-width="1.1"/>
<path d="M368.69 747.09L372.51 750.91M368.69 750.91L372.51 747.09" stroke="#3424fb" stroke-width="1.1" fill="none"/>
<circle cx="367.20" cy="747.00" r="2.7" fill="#8a8aff" fill-opacity="0.95" stroke="#3424fb" stroke-width="1.1"/>
<path d="M365.29 745.09L369.11 748.91M365.29 748.91L369.11 745.09" stroke="#3424fb" stroke-width="1.1" fill="none"/>
<circle cx="374.00" cy="747.00" r="2.7" fill="#8a8aff" fill-opacity="0.95" stroke="#3424fb" stroke-width="1.1"/>
<path d="M372.09 745.09L375.91 748.91M372.09 748.91L375.91 745.09" stroke="#3424fb" stroke-width="1.1" fill="none"/>
<circle cx="370.60" cy="744.50" r="2.7" fill="#8a8aff" fill-opacity="0.95" stroke="#3424fb" stroke-width="1.1"/>
<path d="M368.69 742.59L372.51 746.41M368.69 746.41L372.51 742.59" stroke="#3424fb" stroke-width="1.1" fill="none"/>
<circle cx="365.93" cy="743.50" r="2.7" fill="#8a8aff" fill-opacity="0.95" stroke="#3424fb" stroke-width="1.1"/>
<path d="M364.02 741.59L367.83 745.41M364.02 745.41L367.83 741.59" stroke="#3424fb" stroke-width="1.1" fill="none"/>
<circle cx="375.28" cy="743.50" r="2.7" fill="#8a8aff" fill-opacity="0.95" stroke="#3424fb" stroke-width="1.1"/>
<path d="M373.37 741.59L377.18 745.41M373.37 745.41L377.18 741.59" stroke="#3424fb" stroke-width="1.1" fill="none"/>
<circle cx="368.48" cy="741.00" r="2.7" fill="#8a8aff" fill-opacity="0.95" stroke="#3424fb" stroke-width="1.1"/>
<path d="M366.57 739.09L370.38 742.91M366.57 742.91L370.38 739.09" stroke="#3424fb" stroke-width="1.1" fill="none"/>
<circle cx="372.73" cy="741.00" r="2.7" fill="#8a8aff" fill-opacity="0.95" stroke="#3424fb" stroke-width="1.1"/>
<path d="M370.82 739.09L374.63 742.91M370.82 742.91L374.63 739.09" stroke="#3424fb" stroke-width="1.1" fill="none"/>
<circle cx="365.50" cy="739.50" r="2.7" fill="#8a8aff" fill-opacity="0.95" stroke="#3424fb" stroke-width="1.1"/>
<path d="M363.59 737.59L367.41 741.41M363.59 741.41L367.41 737.59" stroke="#3424fb" stroke-width="1.1" fill="none"/>
<circle cx="375.70" cy="739.50" r="2.7" fill="#8a8aff" fill-opacity="0.95" stroke="#3424fb" stroke-width="1.1"/>
<path d="M373.79 737.59L377.61 741.41M373.79 741.41L377.61 737.59" stroke="#3424fb" stroke-width="1.1" fill="none"/>
<circle cx="370.60" cy="738.00" r="2.7" fill="#8a8aff" fill-opacity="0.95" stroke="#3424fb" stroke-width="1.1"/>
<path d="M368.69 736.09L372.51 739.91M368.69 739.91L372.51 736.09" stroke="#3424fb" stroke-width="1.1" fill="none"/>
<circle cx="367.62" cy="735.00" r="2.7" fill="#8a8aff" fill-opacity="0.95" stroke="#3424fb" stroke-width="1.1"/>
<path d="M365.72 733.09L369.53 736.91M365.72 736.91L369.53 733.09" stroke="#3424fb" stroke-width="1.1" fill="none"/>
<circle cx="373.58" cy="735.00" r="2.7" fill="#8a8aff" fill-opacity="0.95" stroke="#3424fb" stroke-width="1.1"/>
<path d="M371.67 733.09L375.48 736.91M371.67 736.91L375.48 733.09" stroke="#3424fb" stroke-width="1.1" fill="none"/>
<circle cx="370.60" cy="732.50" r="2.7" fill="#8a8aff" fill-opacity="0.95" stroke="#3424fb" stroke-width="1.1"/>
<path d="M368.69 730.59L372.51 734.41M368.69 734.41L372.51 730.59" stroke="#3424fb" stroke-width="1.1" fill="none"/>
<circle cx="366.78" cy="731.50" r="2.7" fill="#8a8aff" fill-opacity="0.95" stroke="#3424fb" stroke-width="1.1"/>
<path d="M364.87 729.59L368.68 733.41M364.87 733.41L368.68 729.59" stroke="#3424fb" stroke-width="1.1" fill="none"/>
<circle cx="374.43" cy="730.00" r="2.7" fill="#8a8aff" fill-opacity="0.95" stroke="#3424fb" stroke-width="1.1"/>
<path d="M372.52 728.09L376.33 731.91M372.52 731.91L376.33 728.09" stroke="#3424fb" stroke-width="1.1" fill="none"/>
<circle cx="369.75" cy="728.50" r="2.7" fill="#8a8aff" fill-opacity="0.95" stroke="#3424fb" stroke-width="1.1"/>
<path d="M367.84 726.59L371.66 730.41M367.84 730.41L371.66 726.59" stroke="#3424fb" stroke-width="1.1" fill="none"/>
<circle cx="367.20" cy="727.00" r="2.7" fill="#8a8aff" fill-opacity="0.95" stroke="#3424fb" stroke-width="1.1"/>
<path d="M365.29 725.09L369.11 728.91M365.29 728.91L369.11 725.09" stroke="#3424fb" stroke-width="1.1" fill="none"/>
<circle cx="372.73" cy="726.50" r="2.7" fill="#8a8aff" fill-opacity="0.95" stroke="#3424fb" stroke-width="1.1"/>
<path d="M370.82 724.59L374.63 728.41M370.82 728.41L374.63 724.59" stroke="#3424fb" stroke-width="1.1" fill="none"/>
<circle cx="374.00" cy="724.00" r="2.7" fill="#8a8aff" fill-opacity="0.95" stroke="#3424fb" stroke-width="1.1"/>
<path d="M372.09 722.09L375.91 725.91M372.09 725.91L375.91 722.09" stroke="#3424fb" stroke-width="1.1" fill="none"/>
<circle cx="365.08" cy="746.00" r="2.7" fill="#8a8aff" fill-opacity="0.95" stroke="#3424fb" stroke-width="1.1"/>
<path d="M363.17 744.09L366.98 747.91M363.17 747.91L366.98 744.09" stroke="#3424fb" stroke-width="1.1" fill="none"/>
<circle cx="376.12" cy="746.50" r="2.7" fill="#8a8aff" fill-opacity="0.95" stroke="#3424fb" stroke-width="1.1"/>
<path d="M374.22 744.59L378.03 748.41M374.22 748.41L378.03 744.59" stroke="#3424fb" stroke-width="1.1" fill="none"/>
<line x1="363.50" y1="738.90" x2="377.50" y2="738.90" stroke="#000" stroke-width="1.7" />
<line x1="370.50" y1="737.80" x2="370.50" y2="740.00" stroke="#000" stroke-width="1.0" />
<line x1="365.00" y1="737.80" x2="376.00" y2="737.80" stroke="#000" stroke-width="1.0" />
<line x1="365.00" y1="740.00" x2="376.00" y2="740.00" stroke="#000" stroke-width="1.0" />
<circle cx="392.40" cy="748.50" r="2.9" fill="#9fd8d6" stroke="#111" stroke-width="0.7" />
<circle cx="390.67" cy="747.00" r="2.9" fill="#9fd8d6" stroke="#111" stroke-width="0.7" />
<circle cx="394.13" cy="747.00" r="2.9" fill="#9fd8d6" stroke="#111" stroke-width="0.7" />
<circle cx="388.87" cy="743.50" r="2.9" fill="#9fd8d6" stroke="#111" stroke-width="0.7" />
<circle cx="392.40" cy="744.00" r="2.9" fill="#9fd8d6" stroke="#111" stroke-width="0.7" />
<circle cx="395.93" cy="743.50" r="2.9" fill="#9fd8d6" stroke="#111" stroke-width="0.7" />
<circle cx="387.43" cy="739.50" r="2.9" fill="#9fd8d6" stroke="#111" stroke-width="0.7" />
<circle cx="390.82" cy="739.50" r="2.9" fill="#9fd8d6" stroke="#111" stroke-width="0.7" />
<circle cx="393.98" cy="739.50" r="2.9" fill="#9fd8d6" stroke="#111" stroke-width="0.7" />
<circle cx="397.37" cy="739.50" r="2.9" fill="#9fd8d6" stroke="#111" stroke-width="0.7" />
<circle cx="386.93" cy="735.00" r="2.9" fill="#9fd8d6" stroke="#111" stroke-width="0.7" />
<circle cx="390.53" cy="734.50" r="2.9" fill="#9fd8d6" stroke="#111" stroke-width="0.7" />
<circle cx="394.27" cy="734.50" r="2.9" fill="#9fd8d6" stroke="#111" stroke-width="0.7" />
<circle cx="397.87" cy="735.00" r="2.9" fill="#9fd8d6" stroke="#111" stroke-width="0.7" />
<circle cx="388.37" cy="730.60" r="2.9" fill="#9fd8d6" stroke="#111" stroke-width="0.7" />
<circle cx="396.43" cy="730.60" r="2.9" fill="#9fd8d6" stroke="#111" stroke-width="0.7" />
<circle cx="392.40" cy="729.80" r="2.9" fill="#9fd8d6" stroke="#111" stroke-width="0.7" />
<circle cx="389.88" cy="727.60" r="2.9" fill="#9fd8d6" stroke="#111" stroke-width="0.7" />
<circle cx="394.85" cy="727.60" r="2.9" fill="#9fd8d6" stroke="#111" stroke-width="0.7" />
<circle cx="392.40" cy="718.60" r="2.9" fill="#9fd8d6" stroke="#111" stroke-width="0.7" />
<line x1="385.40" y1="736.10" x2="399.40" y2="736.10" stroke="#000" stroke-width="1.7" />
<line x1="392.40" y1="734.80" x2="392.40" y2="737.40" stroke="#000" stroke-width="1.0" />
<line x1="386.90" y1="734.80" x2="397.90" y2="734.80" stroke="#000" stroke-width="1.0" />
<line x1="386.90" y1="737.40" x2="397.90" y2="737.40" stroke="#000" stroke-width="1.0" />
<text x="329.80" y="763.00" font-size="10.4" text-anchor="end" fill="#000" stroke="#000" stroke-width="0.22" font-weight="normal" font-style="normal" font-family="Liberation Sans, sans-serif" transform="rotate(-43.5 329.80 763.00)" >SC diet</text>
<text x="352.00" y="763.00" font-size="10.4" text-anchor="end" fill="#000" stroke="#000" stroke-width="0.22" font-weight="normal" font-style="normal" font-family="Liberation Sans, sans-serif" transform="rotate(-43.5 352.00 763.00)" >HFHS diet</text>
<text x="375.40" y="763.00" font-size="10.4" text-anchor="end" fill="#000" stroke="#000" stroke-width="0.22" font-weight="normal" font-style="normal" font-family="Liberation Sans, sans-serif" transform="rotate(-43.5 375.40 763.00)" >diet reversal</text>
<text x="391.20" y="770.40" font-size="10.6" text-anchor="end" fill="#000" stroke="#000" stroke-width="0.22" font-weight="normal" font-style="normal" font-family="Liberation Sans, sans-serif" transform="rotate(-43.5 391.20 770.40)" >CR</text>
<text x="407.60" y="769.20" font-size="8.6" text-anchor="end" fill="#000" stroke="#000" stroke-width="0.22" font-weight="normal" font-style="italic" font-family="Liberation Sans, sans-serif" transform="rotate(-43.5 407.60 769.20)" >(70% kcal)</text>
<text x="540.60" y="593.00" font-size="16.5" text-anchor="start" fill="#000" font-weight="bold" font-style="normal" font-family="Liberation Sans, sans-serif" >G</text>
<line x1="598.00" y1="632.20" x2="598.00" y2="700.40" stroke="#000" stroke-width="1.35" />
<line x1="598.00" y1="708.60" x2="598.00" y2="749.20" stroke="#000" stroke-width="1.35" />
<line x1="595.80" y1="700.00" x2="598.00" y2="700.00" stroke="#000" stroke-width="1.1" />
<line x1="595.80" y1="709.00" x2="598.00" y2="709.00" stroke="#000" stroke-width="1.1" />
<line x1="593.40" y1="748.60" x2="685.20" y2="748.60" stroke="#000" stroke-width="1.35" />
<line x1="593.00" y1="686.60" x2="598.00" y2="686.60" stroke="#000" stroke-width="1.25" />
<text x="591.40" y="690.70" font-size="11.4" text-anchor="end" fill="#000" stroke="#000" stroke-width="0.22" font-weight="normal" font-style="normal" font-family="Liberation Sans, sans-serif" >20</text>
<line x1="593.00" y1="659.70" x2="598.00" y2="659.70" stroke="#000" stroke-width="1.25" />
<text x="591.40" y="663.80" font-size="11.4" text-anchor="end" fill="#000" stroke="#000" stroke-width="0.22" font-weight="normal" font-style="normal" font-family="Liberation Sans, sans-serif" >40</text>
<line x1="593.00" y1="632.80" x2="598.00" y2="632.80" stroke="#000" stroke-width="1.25" />
<text x="591.40" y="636.90" font-size="11.4" text-anchor="end" fill="#000" stroke="#000" stroke-width="0.22" font-weight="normal" font-style="normal" font-family="Liberation Sans, sans-serif" >60</text>
<line x1="593.00" y1="748.60" x2="598.00" y2="748.60" stroke="#000" stroke-width="1.25" />
<text x="591.40" y="752.70" font-size="11.4" text-anchor="end" fill="#000" stroke="#000" stroke-width="0.22" font-weight="normal" font-style="normal" font-family="Liberation Sans, sans-serif" >0</text>
<line x1="593.00" y1="737.20" x2="598.00" y2="737.20" stroke="#000" stroke-width="1.25" />
<text x="591.40" y="741.30" font-size="11.4" text-anchor="end" fill="#000" stroke="#000" stroke-width="0.22" font-weight="normal" font-style="normal" font-family="Liberation Sans, sans-serif" >2</text>
<line x1="593.00" y1="725.80" x2="598.00" y2="725.80" stroke="#000" stroke-width="1.25" />
<text x="591.40" y="729.90" font-size="11.4" text-anchor="end" fill="#000" stroke="#000" stroke-width="0.22" font-weight="normal" font-style="normal" font-family="Liberation Sans, sans-serif" >4</text>
<line x1="593.00" y1="714.40" x2="598.00" y2="714.40" stroke="#000" stroke-width="1.25" />
<text x="591.40" y="718.50" font-size="11.4" text-anchor="end" fill="#000" stroke="#000" stroke-width="0.22" font-weight="normal" font-style="normal" font-family="Liberation Sans, sans-serif" >6</text>
<text x="570.00" y="686.60" font-size="12.6" text-anchor="middle" fill="#000" stroke="#000" stroke-width="0.22" font-weight="normal" font-style="normal" font-family="Liberation Sans, sans-serif" transform="rotate(-90 570.00 686.60)" >Serum leptin (ng/ml)</text>
<text x="631.90" y="637.20" font-size="15" text-anchor="middle" fill="#000" stroke="#000" stroke-width="0.22" font-weight="normal" font-style="normal" font-family="Liberation Sans, sans-serif" >**</text>
<circle cx="605.70" cy="738.70" r="2.9" fill="#8c94f6" stroke="#111" stroke-width="0.7" />
<circle cx="609.20" cy="738.10" r="2.9" fill="#8c94f6" stroke="#111" stroke-width="0.7" />
<circle cx="610.80" cy="743.00" r="2.9" fill="#8c94f6" stroke="#111" stroke-width="0.7" />
<circle cx="608.20" cy="747.00" r="2.9" fill="#8c94f6" stroke="#111" stroke-width="0.7" />
<line x1="601.70" y1="743.00" x2="616.10" y2="743.00" stroke="#000" stroke-width="1.7" />
<line x1="608.90" y1="742.00" x2="608.90" y2="744.00" stroke="#000" stroke-width="1.0" />
<line x1="603.90" y1="742.00" x2="613.90" y2="742.00" stroke="#000" stroke-width="1.0" />
<line x1="603.90" y1="744.00" x2="613.90" y2="744.00" stroke="#000" stroke-width="1.0" />
<circle cx="630.90" cy="645.00" r="2.9" fill="#2408f0" stroke="#05052a" stroke-width="0.7" />
<circle cx="627.90" cy="668.20" r="2.9" fill="#2408f0" stroke="#05052a" stroke-width="0.7" />
<circle cx="634.40" cy="668.20" r="2.9" fill="#2408f0" stroke="#05052a" stroke-width="0.7" />
<circle cx="630.90" cy="683.40" r="2.9" fill="#2408f0" stroke="#05052a" stroke-width="0.7" />
<circle cx="630.90" cy="697.80" r="2.9" fill="#2408f0" stroke="#05052a" stroke-width="0.7" />
<circle cx="630.90" cy="728.30" r="2.9" fill="#2408f0" stroke="#05052a" stroke-width="0.7" />
<line x1="623.40" y1="678.70" x2="638.40" y2="678.70" stroke="#000" stroke-width="1.5" />
<line x1="630.90" y1="669.20" x2="630.90" y2="688.30" stroke="#000" stroke-width="1.3" />
<line x1="626.60" y1="669.20" x2="635.20" y2="669.20" stroke="#000" stroke-width="1.3" />
<line x1="626.60" y1="688.30" x2="635.20" y2="688.30" stroke="#000" stroke-width="1.3" />
<circle cx="647.60" cy="745.00" r="2.7" fill="#8a8aff" fill-opacity="0.95" stroke="#3424fb" stroke-width="1.1"/>
<path d="M645.69 743.09L649.51 746.91M645.69 746.91L649.51 743.09" stroke="#3424fb" stroke-width="1.1" fill="none"/>
<circle cx="652.50" cy="747.20" r="2.7" fill="#8a8aff" fill-opacity="0.95" stroke="#3424fb" stroke-width="1.1"/>
<path d="M650.59 745.29L654.41 749.11M650.59 749.11L654.41 745.29" stroke="#3424fb" stroke-width="1.1" fill="none"/>
<circle cx="657.00" cy="744.00" r="2.7" fill="#8a8aff" fill-opacity="0.95" stroke="#3424fb" stroke-width="1.1"/>
<path d="M655.09 742.09L658.91 745.91M655.09 745.91L658.91 742.09" stroke="#3424fb" stroke-width="1.1" fill="none"/>
<line x1="645.00" y1="745.40" x2="659.40" y2="745.40" stroke="#000" stroke-width="1.7" />
<circle cx="674.60" cy="712.50" r="2.9" fill="#9fd8d6" stroke="#111" stroke-width="0.7" />
<circle cx="674.60" cy="728.90" r="2.9" fill="#9fd8d6" stroke="#111" stroke-width="0.7" />
<circle cx="673.20" cy="738.10" r="2.9" fill="#9fd8d6" stroke="#111" stroke-width="0.7" />
<circle cx="678.10" cy="742.50" r="2.9" fill="#9fd8d6" stroke="#111" stroke-width="0.7" />
<circle cx="670.70" cy="748.60" r="2.9" fill="#9fd8d6" stroke="#111" stroke-width="0.7" />
<line x1="667.30" y1="734.20" x2="682.00" y2="734.20" stroke="#000" stroke-width="1.5" />
<line x1="674.60" y1="727.30" x2="674.60" y2="741.10" stroke="#000" stroke-width="1.3" />
<line x1="670.30" y1="727.30" x2="678.90" y2="727.30" stroke="#000" stroke-width="1.3" />
<line x1="670.30" y1="741.10" x2="678.90" y2="741.10" stroke="#000" stroke-width="1.3" />
<text x="609.70" y="762.00" font-size="10.4" text-anchor="end" fill="#000" stroke="#000" stroke-width="0.22" font-weight="normal" font-style="normal" font-family="Liberation Sans, sans-serif" transform="rotate(-43.5 609.70 762.00)" >SC diet</text>
<text x="633.90" y="762.00" font-size="10.4" text-anchor="end" fill="#000" stroke="#000" stroke-width="0.22" font-weight="normal" font-style="normal" font-family="Liberation Sans, sans-serif" transform="rotate(-43.5 633.90 762.00)" >HFHS diet</text>
<text x="657.20" y="762.00" font-size="10.4" text-anchor="end" fill="#000" stroke="#000" stroke-width="0.22" font-weight="normal" font-style="normal" font-family="Liberation Sans, sans-serif" transform="rotate(-43.5 657.20 762.00)" >diet reversal</text>
<text x="670.10" y="770.40" font-size="10.6" text-anchor="end" fill="#000" stroke="#000" stroke-width="0.22" font-weight="normal" font-style="normal" font-family="Liberation Sans, sans-serif" transform="rotate(-43.5 670.10 770.40)" >CR</text>
<text x="686.50" y="768.20" font-size="8.6" text-anchor="end" fill="#000" stroke="#000" stroke-width="0.22" font-weight="normal" font-style="italic" font-family="Liberation Sans, sans-serif" transform="rotate(-43.5 686.50 768.20)" >(70% kcal)</text>
</svg>
</body></html>
